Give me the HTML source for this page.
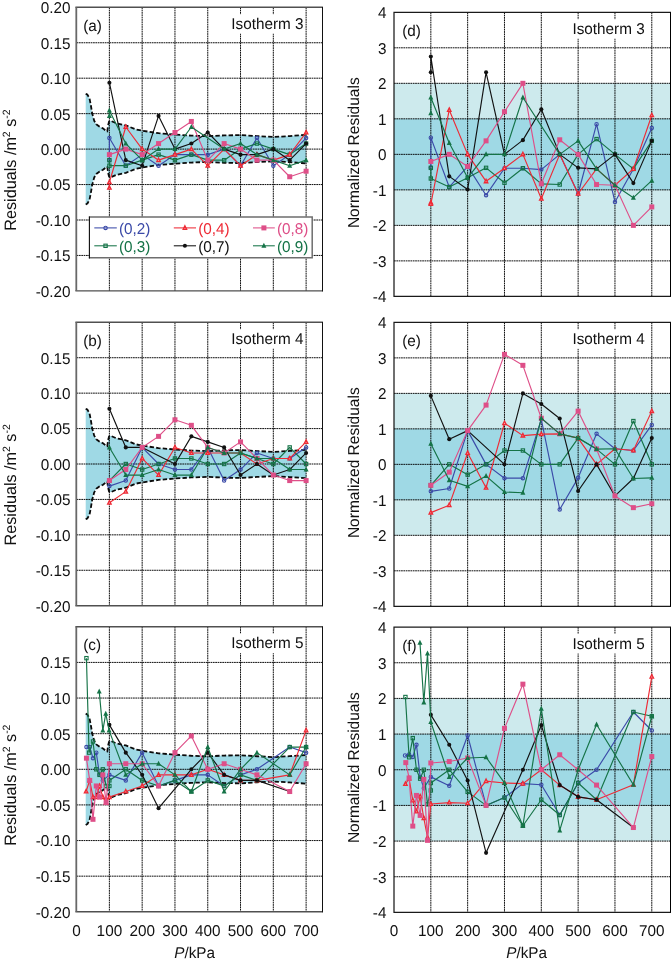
<!DOCTYPE html>
<html lang="en"><head><meta charset="utf-8"><title>Residual plots</title>
<style>html,body{margin:0;padding:0;background:#fff}svg{display:block}</style>
</head><body>
<svg width="671" height="964" viewBox="0 0 671 964" font-family="'Liberation Sans', Arial, sans-serif" font-size="15.3" fill="#111" text-rendering="geometricPrecision">
<rect width="671" height="964" fill="#fff"/>
<g id="panel-a">
<path d="M85.71 93.73L87.42 94.65L89.49 98.41L90.83 105.14L92.17 113.3L94.21 120.74L96.24 124.28L99.62 126.77L102.99 128.4L105.94 130.81L107.29 131.45L108.08 125.42L109.06 121.59L110.37 120.74L116.44 123.36L125.78 125.35L135.94 129.46L142.17 130.67L158.57 133.22L174.96 134.57L191.35 135.63L207.75 136.2L224.14 135.42L240.53 135.13L256.93 136.13L273.32 136.98L289.71 136.05L306.11 134.85L306.11 163.35L289.71 162.15L273.32 161.22L256.93 162.07L240.53 163.07L224.14 162.78L207.75 162L191.35 162.57L174.96 163.63L158.57 164.98L142.17 167.53L135.94 168.74L125.78 172.85L116.44 174.84L110.37 177.46L109.06 176.61L108.08 172.78L107.29 166.75L105.94 167.39L102.99 169.8L99.62 171.43L96.24 173.91L94.21 177.46L92.17 184.9L90.83 193.06L89.49 199.79L87.42 203.55L85.71 204.47Z" fill="#9fd9e5"/>
<path d="M109.39 7.3V290.9M142.17 7.3V290.9M174.96 7.3V290.9M207.75 7.3V290.9M240.53 7.3V290.9M273.32 7.3V290.9M306.11 7.3V290.9M76.6 255.45H322.5M76.6 220H322.5M76.6 184.55H322.5M76.6 149.1H322.5M76.6 113.65H322.5M76.6 78.2H322.5M76.6 42.75H322.5" fill="none" stroke="#000" stroke-width="0.95" stroke-dasharray="1.75 0.6"/>
<path d="M85.71 93.73L87.42 94.65L89.49 98.41L90.83 105.14L92.17 113.3L94.21 120.74L96.24 124.28L99.62 126.77L102.99 128.4L105.94 130.81L107.29 131.45L108.08 125.42L109.06 121.59L110.37 120.74L116.44 123.36L125.78 125.35L135.94 129.46L142.17 130.67L158.57 133.22L174.96 134.57L191.35 135.63L207.75 136.2L224.14 135.42L240.53 135.13L256.93 136.13L273.32 136.98L289.71 136.05L306.11 134.85" fill="none" stroke="#0a0a0a" stroke-width="1.8" stroke-dasharray="4.4 2.2" stroke-linejoin="round"/>
<path d="M85.71 204.47L87.42 203.55L89.49 199.79L90.83 193.06L92.17 184.9L94.21 177.46L96.24 173.91L99.62 171.43L102.99 169.8L105.94 167.39L107.29 166.75L108.08 172.78L109.06 176.61L110.37 177.46L116.44 174.84L125.78 172.85L135.94 168.74L142.17 167.53L158.57 164.98L174.96 163.63L191.35 162.57L207.75 162L224.14 162.78L240.53 163.07L256.93 162.07L273.32 161.22L289.71 162.15L306.11 163.35" fill="none" stroke="#0a0a0a" stroke-width="1.8" stroke-dasharray="4.4 2.2" stroke-linejoin="round"/>
<rect x="229" y="14.2" width="75.7" height="19.5" fill="#fff"/>
<path d="M109.39 160.16L109.39 138.04L125.78 165.69L142.17 154.63L158.57 165.69L174.96 154.63L191.35 154.63L207.75 154.63L224.14 149.1L240.53 165.69L256.93 138.04L273.32 165.69L289.71 154.63L306.11 138.04" fill="none" stroke="#3b4aa8" stroke-width="1.15" stroke-linejoin="round"/>
<circle cx="109.39" cy="160.16" r="1.7" fill="none" stroke="#3b4aa8" stroke-width="1.1"/>
<circle cx="109.39" cy="138.04" r="1.7" fill="none" stroke="#3b4aa8" stroke-width="1.1"/>
<circle cx="125.78" cy="165.69" r="1.7" fill="none" stroke="#3b4aa8" stroke-width="1.1"/>
<circle cx="142.17" cy="154.63" r="1.7" fill="none" stroke="#3b4aa8" stroke-width="1.1"/>
<circle cx="158.57" cy="165.69" r="1.7" fill="none" stroke="#3b4aa8" stroke-width="1.1"/>
<circle cx="174.96" cy="154.63" r="1.7" fill="none" stroke="#3b4aa8" stroke-width="1.1"/>
<circle cx="191.35" cy="154.63" r="1.7" fill="none" stroke="#3b4aa8" stroke-width="1.1"/>
<circle cx="207.75" cy="154.63" r="1.7" fill="none" stroke="#3b4aa8" stroke-width="1.1"/>
<circle cx="224.14" cy="149.1" r="1.7" fill="none" stroke="#3b4aa8" stroke-width="1.1"/>
<circle cx="240.53" cy="165.69" r="1.7" fill="none" stroke="#3b4aa8" stroke-width="1.1"/>
<circle cx="256.93" cy="138.04" r="1.7" fill="none" stroke="#3b4aa8" stroke-width="1.1"/>
<circle cx="273.32" cy="165.69" r="1.7" fill="none" stroke="#3b4aa8" stroke-width="1.1"/>
<circle cx="289.71" cy="154.63" r="1.7" fill="none" stroke="#3b4aa8" stroke-width="1.1"/>
<circle cx="306.11" cy="138.04" r="1.7" fill="none" stroke="#3b4aa8" stroke-width="1.1"/>
<path d="M109.39 160.16L109.39 165.69L125.78 165.69L142.17 160.16L158.57 154.63L174.96 160.16L191.35 154.63L207.75 160.16L224.14 160.16L240.53 149.1L256.93 143.57L273.32 149.1L289.71 154.63L306.11 143.57" fill="none" stroke="#157347" stroke-width="1.15" stroke-linejoin="round"/>
<rect x="107.74" y="158.51" width="3.3" height="3.3" fill="none" stroke="#157347" stroke-width="1.1"/>
<rect x="107.74" y="164.04" width="3.3" height="3.3" fill="none" stroke="#157347" stroke-width="1.1"/>
<rect x="124.13" y="164.04" width="3.3" height="3.3" fill="none" stroke="#157347" stroke-width="1.1"/>
<rect x="140.52" y="158.51" width="3.3" height="3.3" fill="none" stroke="#157347" stroke-width="1.1"/>
<rect x="156.92" y="152.98" width="3.3" height="3.3" fill="none" stroke="#157347" stroke-width="1.1"/>
<rect x="173.31" y="158.51" width="3.3" height="3.3" fill="none" stroke="#157347" stroke-width="1.1"/>
<rect x="189.7" y="152.98" width="3.3" height="3.3" fill="none" stroke="#157347" stroke-width="1.1"/>
<rect x="206.1" y="158.51" width="3.3" height="3.3" fill="none" stroke="#157347" stroke-width="1.1"/>
<rect x="222.49" y="158.51" width="3.3" height="3.3" fill="none" stroke="#157347" stroke-width="1.1"/>
<rect x="238.88" y="147.45" width="3.3" height="3.3" fill="none" stroke="#157347" stroke-width="1.1"/>
<rect x="255.28" y="141.92" width="3.3" height="3.3" fill="none" stroke="#157347" stroke-width="1.1"/>
<rect x="271.67" y="147.45" width="3.3" height="3.3" fill="none" stroke="#157347" stroke-width="1.1"/>
<rect x="288.06" y="152.98" width="3.3" height="3.3" fill="none" stroke="#157347" stroke-width="1.1"/>
<rect x="304.46" y="141.92" width="3.3" height="3.3" fill="none" stroke="#157347" stroke-width="1.1"/>
<path d="M109.39 187.81L109.39 182.28L125.78 126.98L142.17 149.1L158.57 160.16L174.96 154.63L191.35 149.1L207.75 165.69L224.14 149.1L240.53 165.69L256.93 154.63L273.32 160.16L289.71 154.63L306.11 132.51" fill="none" stroke="#ee2a35" stroke-width="1.15" stroke-linejoin="round"/>
<path d="M109.39 185.71L111.14 189.21L107.64 189.21Z" fill="#f9a3a8" stroke="#ee2a35" stroke-width="1.3" stroke-linejoin="miter"/>
<path d="M109.39 180.18L111.14 183.68L107.64 183.68Z" fill="#f9a3a8" stroke="#ee2a35" stroke-width="1.3" stroke-linejoin="miter"/>
<path d="M125.78 124.88L127.53 128.38L124.03 128.38Z" fill="#f9a3a8" stroke="#ee2a35" stroke-width="1.3" stroke-linejoin="miter"/>
<path d="M142.17 147L143.92 150.5L140.42 150.5Z" fill="#f9a3a8" stroke="#ee2a35" stroke-width="1.3" stroke-linejoin="miter"/>
<path d="M158.57 158.06L160.32 161.56L156.82 161.56Z" fill="#f9a3a8" stroke="#ee2a35" stroke-width="1.3" stroke-linejoin="miter"/>
<path d="M174.96 152.53L176.71 156.03L173.21 156.03Z" fill="#f9a3a8" stroke="#ee2a35" stroke-width="1.3" stroke-linejoin="miter"/>
<path d="M191.35 147L193.1 150.5L189.6 150.5Z" fill="#f9a3a8" stroke="#ee2a35" stroke-width="1.3" stroke-linejoin="miter"/>
<path d="M207.75 163.59L209.5 167.09L206 167.09Z" fill="#f9a3a8" stroke="#ee2a35" stroke-width="1.3" stroke-linejoin="miter"/>
<path d="M224.14 147L225.89 150.5L222.39 150.5Z" fill="#f9a3a8" stroke="#ee2a35" stroke-width="1.3" stroke-linejoin="miter"/>
<path d="M240.53 163.59L242.28 167.09L238.78 167.09Z" fill="#f9a3a8" stroke="#ee2a35" stroke-width="1.3" stroke-linejoin="miter"/>
<path d="M256.93 152.53L258.68 156.03L255.18 156.03Z" fill="#f9a3a8" stroke="#ee2a35" stroke-width="1.3" stroke-linejoin="miter"/>
<path d="M273.32 158.06L275.07 161.56L271.57 161.56Z" fill="#f9a3a8" stroke="#ee2a35" stroke-width="1.3" stroke-linejoin="miter"/>
<path d="M289.71 152.53L291.46 156.03L287.96 156.03Z" fill="#f9a3a8" stroke="#ee2a35" stroke-width="1.3" stroke-linejoin="miter"/>
<path d="M306.11 130.41L307.86 133.91L304.36 133.91Z" fill="#f9a3a8" stroke="#ee2a35" stroke-width="1.3" stroke-linejoin="miter"/>
<path d="M109.39 82.74L125.78 160.16L142.17 165.69L158.57 115.92L174.96 149.1L191.35 143.57L207.75 132.51L224.14 149.1L240.53 154.63L256.93 154.63L273.32 149.1L289.71 160.16L306.11 143.57" fill="none" stroke="#111111" stroke-width="1.15" stroke-linejoin="round"/>
<circle cx="109.39" cy="82.74" r="2.05" fill="#111111"/>
<circle cx="125.78" cy="160.16" r="2.05" fill="#111111"/>
<circle cx="142.17" cy="165.69" r="2.05" fill="#111111"/>
<circle cx="158.57" cy="115.92" r="2.05" fill="#111111"/>
<circle cx="174.96" cy="149.1" r="2.05" fill="#111111"/>
<circle cx="191.35" cy="143.57" r="2.05" fill="#111111"/>
<circle cx="207.75" cy="132.51" r="2.05" fill="#111111"/>
<circle cx="224.14" cy="149.1" r="2.05" fill="#111111"/>
<circle cx="240.53" cy="154.63" r="2.05" fill="#111111"/>
<circle cx="256.93" cy="154.63" r="2.05" fill="#111111"/>
<circle cx="273.32" cy="149.1" r="2.05" fill="#111111"/>
<circle cx="289.71" cy="160.16" r="2.05" fill="#111111"/>
<circle cx="306.11" cy="143.57" r="2.05" fill="#111111"/>
<path d="M109.39 154.63L125.78 149.1L142.17 154.63L158.57 143.57L174.96 132.51L191.35 121.45L207.75 160.16L224.14 143.57L240.53 149.1L256.93 160.16L273.32 160.16L289.71 176.75L306.11 171.22" fill="none" stroke="#de4f88" stroke-width="1.15" stroke-linejoin="round"/>
<rect x="106.89" y="152.13" width="5" height="5" fill="#de4f88"/>
<rect x="123.28" y="146.6" width="5" height="5" fill="#de4f88"/>
<rect x="139.67" y="152.13" width="5" height="5" fill="#de4f88"/>
<rect x="156.07" y="141.07" width="5" height="5" fill="#de4f88"/>
<rect x="172.46" y="130.01" width="5" height="5" fill="#de4f88"/>
<rect x="188.85" y="118.95" width="5" height="5" fill="#de4f88"/>
<rect x="205.25" y="157.66" width="5" height="5" fill="#de4f88"/>
<rect x="221.64" y="141.07" width="5" height="5" fill="#de4f88"/>
<rect x="238.03" y="146.6" width="5" height="5" fill="#de4f88"/>
<rect x="254.43" y="157.66" width="5" height="5" fill="#de4f88"/>
<rect x="270.82" y="157.66" width="5" height="5" fill="#de4f88"/>
<rect x="287.21" y="174.25" width="5" height="5" fill="#de4f88"/>
<rect x="303.61" y="168.72" width="5" height="5" fill="#de4f88"/>
<path d="M109.39 115.92L109.39 110.39L125.78 143.57L142.17 160.16L158.57 149.1L174.96 149.1L191.35 126.98L224.14 149.1L240.53 143.57L256.93 154.63L273.32 160.16L289.71 165.69L306.11 160.16" fill="none" stroke="#157347" stroke-width="1.15" stroke-linejoin="round"/>
<path d="M109.39 112.92L111.89 117.92L106.89 117.92Z" fill="#157347"/>
<path d="M109.39 107.39L111.89 112.39L106.89 112.39Z" fill="#157347"/>
<path d="M125.78 140.57L128.28 145.57L123.28 145.57Z" fill="#157347"/>
<path d="M142.17 157.16L144.67 162.16L139.67 162.16Z" fill="#157347"/>
<path d="M158.57 146.1L161.07 151.1L156.07 151.1Z" fill="#157347"/>
<path d="M174.96 146.1L177.46 151.1L172.46 151.1Z" fill="#157347"/>
<path d="M191.35 123.98L193.85 128.98L188.85 128.98Z" fill="#157347"/>
<path d="M224.14 146.1L226.64 151.1L221.64 151.1Z" fill="#157347"/>
<path d="M240.53 140.57L243.03 145.57L238.03 145.57Z" fill="#157347"/>
<path d="M256.93 151.63L259.43 156.63L254.43 156.63Z" fill="#157347"/>
<path d="M273.32 157.16L275.82 162.16L270.82 162.16Z" fill="#157347"/>
<path d="M289.71 162.69L292.21 167.69L287.21 167.69Z" fill="#157347"/>
<path d="M306.11 157.16L308.61 162.16L303.61 162.16Z" fill="#157347"/>
<path d="M75.4 7.3H322.5M75.4 290.9H322.5" fill="none" stroke="#505050" stroke-width="1.4"/>
<path d="M76.3 7.3V290.9" fill="none" stroke="#686868" stroke-width="1.8"/>
<path d="M322.5 6.8V291.5" fill="none" stroke="#111" stroke-width="1"/>
<text transform="translate(303.5 28.7) scale(1 1.02)" text-anchor="end">Isotherm 3</text>
<text transform="translate(83.2 30.7) scale(1 1.02)">(a)</text>
<text transform="translate(70.6 296.8) scale(1 1.02)" text-anchor="end">-0.20</text>
<text transform="translate(70.6 261.35) scale(1 1.02)" text-anchor="end">-0.15</text>
<text transform="translate(70.6 225.9) scale(1 1.02)" text-anchor="end">-0.10</text>
<text transform="translate(70.6 190.45) scale(1 1.02)" text-anchor="end">-0.05</text>
<text transform="translate(70.6 155) scale(1 1.02)" text-anchor="end">0.00</text>
<text transform="translate(70.6 119.55) scale(1 1.02)" text-anchor="end">0.05</text>
<text transform="translate(70.6 84.1) scale(1 1.02)" text-anchor="end">0.10</text>
<text transform="translate(70.6 48.65) scale(1 1.02)" text-anchor="end">0.15</text>
<text transform="translate(70.6 13.2) scale(1 1.02)" text-anchor="end">0.20</text>
</g>
<g id="panel-b">
<path d="M85.71 408.67L87.42 409.59L89.49 413.34L90.83 420.07L92.17 428.22L94.21 435.66L96.24 439.2L99.62 441.68L102.99 443.31L105.94 445.72L107.29 446.36L108.08 440.34L109.06 436.51L110.37 435.66L116.44 438.28L125.78 440.27L135.94 444.37L142.17 445.58L158.57 448.13L174.96 449.48L191.35 450.54L207.75 451.11L224.14 450.33L240.53 450.04L256.93 451.03L273.32 451.88L289.71 450.96L306.11 449.76L306.11 478.24L289.71 477.04L273.32 476.12L256.93 476.97L240.53 477.96L224.14 477.67L207.75 476.89L191.35 477.46L174.96 478.52L158.57 479.87L142.17 482.42L135.94 483.63L125.78 487.73L116.44 489.72L110.37 492.34L109.06 491.49L108.08 487.66L107.29 481.64L105.94 482.28L102.99 484.69L99.62 486.32L96.24 488.8L94.21 492.34L92.17 499.78L90.83 507.93L89.49 514.66L87.42 518.41L85.71 519.33Z" fill="#9fd9e5"/>
<path d="M109.39 322.3V605.7M142.17 322.3V605.7M174.96 322.3V605.7M207.75 322.3V605.7M240.53 322.3V605.7M273.32 322.3V605.7M306.11 322.3V605.7M76.6 570.28H322.5M76.6 534.85H322.5M76.6 499.43H322.5M76.6 464H322.5M76.6 428.58H322.5M76.6 393.15H322.5M76.6 357.73H322.5" fill="none" stroke="#000" stroke-width="0.95" stroke-dasharray="1.75 0.6"/>
<path d="M85.71 408.67L87.42 409.59L89.49 413.34L90.83 420.07L92.17 428.22L94.21 435.66L96.24 439.2L99.62 441.68L102.99 443.31L105.94 445.72L107.29 446.36L108.08 440.34L109.06 436.51L110.37 435.66L116.44 438.28L125.78 440.27L135.94 444.37L142.17 445.58L158.57 448.13L174.96 449.48L191.35 450.54L207.75 451.11L224.14 450.33L240.53 450.04L256.93 451.03L273.32 451.88L289.71 450.96L306.11 449.76" fill="none" stroke="#0a0a0a" stroke-width="1.8" stroke-dasharray="4.4 2.2" stroke-linejoin="round"/>
<path d="M85.71 519.33L87.42 518.41L89.49 514.66L90.83 507.93L92.17 499.78L94.21 492.34L96.24 488.8L99.62 486.32L102.99 484.69L105.94 482.28L107.29 481.64L108.08 487.66L109.06 491.49L110.37 492.34L116.44 489.72L125.78 487.73L135.94 483.63L142.17 482.42L158.57 479.87L174.96 478.52L191.35 477.46L207.75 476.89L224.14 477.67L240.53 477.96L256.93 476.97L273.32 476.12L289.71 477.04L306.11 478.24" fill="none" stroke="#0a0a0a" stroke-width="1.8" stroke-dasharray="4.4 2.2" stroke-linejoin="round"/>
<rect x="229" y="329.2" width="75.7" height="19.5" fill="#fff"/>
<path d="M109.39 486.11L125.78 480.58L142.17 447.42L158.57 464L174.96 469.53L191.35 469.53L207.75 447.42L224.14 480.58L240.53 469.53L256.93 452.95L273.32 458.47L289.71 458.47L306.11 447.42" fill="none" stroke="#3b4aa8" stroke-width="1.15" stroke-linejoin="round"/>
<circle cx="109.39" cy="486.11" r="1.7" fill="none" stroke="#3b4aa8" stroke-width="1.1"/>
<circle cx="125.78" cy="480.58" r="1.7" fill="none" stroke="#3b4aa8" stroke-width="1.1"/>
<circle cx="142.17" cy="447.42" r="1.7" fill="none" stroke="#3b4aa8" stroke-width="1.1"/>
<circle cx="158.57" cy="464" r="1.7" fill="none" stroke="#3b4aa8" stroke-width="1.1"/>
<circle cx="174.96" cy="469.53" r="1.7" fill="none" stroke="#3b4aa8" stroke-width="1.1"/>
<circle cx="191.35" cy="469.53" r="1.7" fill="none" stroke="#3b4aa8" stroke-width="1.1"/>
<circle cx="207.75" cy="447.42" r="1.7" fill="none" stroke="#3b4aa8" stroke-width="1.1"/>
<circle cx="224.14" cy="480.58" r="1.7" fill="none" stroke="#3b4aa8" stroke-width="1.1"/>
<circle cx="240.53" cy="469.53" r="1.7" fill="none" stroke="#3b4aa8" stroke-width="1.1"/>
<circle cx="256.93" cy="452.95" r="1.7" fill="none" stroke="#3b4aa8" stroke-width="1.1"/>
<circle cx="273.32" cy="458.47" r="1.7" fill="none" stroke="#3b4aa8" stroke-width="1.1"/>
<circle cx="289.71" cy="458.47" r="1.7" fill="none" stroke="#3b4aa8" stroke-width="1.1"/>
<circle cx="306.11" cy="447.42" r="1.7" fill="none" stroke="#3b4aa8" stroke-width="1.1"/>
<path d="M109.39 480.58L125.78 464L142.17 469.53L158.57 464L174.96 458.47L191.35 458.47L207.75 464L224.14 464L240.53 452.95L256.93 458.47L273.32 464L289.71 447.42L306.11 464" fill="none" stroke="#157347" stroke-width="1.15" stroke-linejoin="round"/>
<rect x="107.74" y="478.93" width="3.3" height="3.3" fill="none" stroke="#157347" stroke-width="1.1"/>
<rect x="124.13" y="462.35" width="3.3" height="3.3" fill="none" stroke="#157347" stroke-width="1.1"/>
<rect x="140.52" y="467.88" width="3.3" height="3.3" fill="none" stroke="#157347" stroke-width="1.1"/>
<rect x="156.92" y="462.35" width="3.3" height="3.3" fill="none" stroke="#157347" stroke-width="1.1"/>
<rect x="173.31" y="456.82" width="3.3" height="3.3" fill="none" stroke="#157347" stroke-width="1.1"/>
<rect x="189.7" y="456.82" width="3.3" height="3.3" fill="none" stroke="#157347" stroke-width="1.1"/>
<rect x="206.1" y="462.35" width="3.3" height="3.3" fill="none" stroke="#157347" stroke-width="1.1"/>
<rect x="222.49" y="462.35" width="3.3" height="3.3" fill="none" stroke="#157347" stroke-width="1.1"/>
<rect x="238.88" y="451.3" width="3.3" height="3.3" fill="none" stroke="#157347" stroke-width="1.1"/>
<rect x="255.28" y="456.82" width="3.3" height="3.3" fill="none" stroke="#157347" stroke-width="1.1"/>
<rect x="271.67" y="462.35" width="3.3" height="3.3" fill="none" stroke="#157347" stroke-width="1.1"/>
<rect x="288.06" y="445.77" width="3.3" height="3.3" fill="none" stroke="#157347" stroke-width="1.1"/>
<rect x="304.46" y="462.35" width="3.3" height="3.3" fill="none" stroke="#157347" stroke-width="1.1"/>
<path d="M109.39 502.68L125.78 491.63L142.17 458.47L158.57 475.05L174.96 447.42L191.35 452.95L207.75 452.95L224.14 452.95L240.53 452.95L256.93 464L273.32 458.47L289.71 458.47L306.11 441.89" fill="none" stroke="#ee2a35" stroke-width="1.15" stroke-linejoin="round"/>
<path d="M109.39 500.58L111.14 504.08L107.64 504.08Z" fill="#f9a3a8" stroke="#ee2a35" stroke-width="1.3" stroke-linejoin="miter"/>
<path d="M125.78 489.53L127.53 493.03L124.03 493.03Z" fill="#f9a3a8" stroke="#ee2a35" stroke-width="1.3" stroke-linejoin="miter"/>
<path d="M142.17 456.37L143.92 459.87L140.42 459.87Z" fill="#f9a3a8" stroke="#ee2a35" stroke-width="1.3" stroke-linejoin="miter"/>
<path d="M158.57 472.95L160.32 476.45L156.82 476.45Z" fill="#f9a3a8" stroke="#ee2a35" stroke-width="1.3" stroke-linejoin="miter"/>
<path d="M174.96 445.32L176.71 448.82L173.21 448.82Z" fill="#f9a3a8" stroke="#ee2a35" stroke-width="1.3" stroke-linejoin="miter"/>
<path d="M191.35 450.85L193.1 454.35L189.6 454.35Z" fill="#f9a3a8" stroke="#ee2a35" stroke-width="1.3" stroke-linejoin="miter"/>
<path d="M207.75 450.85L209.5 454.35L206 454.35Z" fill="#f9a3a8" stroke="#ee2a35" stroke-width="1.3" stroke-linejoin="miter"/>
<path d="M224.14 450.85L225.89 454.35L222.39 454.35Z" fill="#f9a3a8" stroke="#ee2a35" stroke-width="1.3" stroke-linejoin="miter"/>
<path d="M240.53 450.85L242.28 454.35L238.78 454.35Z" fill="#f9a3a8" stroke="#ee2a35" stroke-width="1.3" stroke-linejoin="miter"/>
<path d="M256.93 461.9L258.68 465.4L255.18 465.4Z" fill="#f9a3a8" stroke="#ee2a35" stroke-width="1.3" stroke-linejoin="miter"/>
<path d="M273.32 456.37L275.07 459.87L271.57 459.87Z" fill="#f9a3a8" stroke="#ee2a35" stroke-width="1.3" stroke-linejoin="miter"/>
<path d="M289.71 456.37L291.46 459.87L287.96 459.87Z" fill="#f9a3a8" stroke="#ee2a35" stroke-width="1.3" stroke-linejoin="miter"/>
<path d="M306.11 439.79L307.86 443.29L304.36 443.29Z" fill="#f9a3a8" stroke="#ee2a35" stroke-width="1.3" stroke-linejoin="miter"/>
<path d="M109.39 408.74L125.78 447.42L142.17 447.42L174.96 464L191.35 436.37L207.75 441.89L224.14 447.42L240.53 475.05L256.93 464L273.32 475.05L289.71 469.53L306.11 452.95" fill="none" stroke="#111111" stroke-width="1.15" stroke-linejoin="round"/>
<circle cx="109.39" cy="408.74" r="2.05" fill="#111111"/>
<circle cx="125.78" cy="447.42" r="2.05" fill="#111111"/>
<circle cx="142.17" cy="447.42" r="2.05" fill="#111111"/>
<circle cx="174.96" cy="464" r="2.05" fill="#111111"/>
<circle cx="191.35" cy="436.37" r="2.05" fill="#111111"/>
<circle cx="207.75" cy="441.89" r="2.05" fill="#111111"/>
<circle cx="224.14" cy="447.42" r="2.05" fill="#111111"/>
<circle cx="240.53" cy="475.05" r="2.05" fill="#111111"/>
<circle cx="256.93" cy="464" r="2.05" fill="#111111"/>
<circle cx="273.32" cy="475.05" r="2.05" fill="#111111"/>
<circle cx="289.71" cy="469.53" r="2.05" fill="#111111"/>
<circle cx="306.11" cy="452.95" r="2.05" fill="#111111"/>
<path d="M109.39 480.58L125.78 469.53L142.17 447.42L158.57 436.37L174.96 419.79L191.35 425.32L207.75 447.42L224.14 452.95L240.53 441.89L256.93 458.47L273.32 475.05L289.71 480.58L306.11 480.58" fill="none" stroke="#de4f88" stroke-width="1.15" stroke-linejoin="round"/>
<rect x="106.89" y="478.08" width="5" height="5" fill="#de4f88"/>
<rect x="123.28" y="467.03" width="5" height="5" fill="#de4f88"/>
<rect x="139.67" y="444.92" width="5" height="5" fill="#de4f88"/>
<rect x="156.07" y="433.87" width="5" height="5" fill="#de4f88"/>
<rect x="172.46" y="417.29" width="5" height="5" fill="#de4f88"/>
<rect x="188.85" y="422.82" width="5" height="5" fill="#de4f88"/>
<rect x="205.25" y="444.92" width="5" height="5" fill="#de4f88"/>
<rect x="221.64" y="450.45" width="5" height="5" fill="#de4f88"/>
<rect x="238.03" y="439.39" width="5" height="5" fill="#de4f88"/>
<rect x="254.43" y="455.97" width="5" height="5" fill="#de4f88"/>
<rect x="270.82" y="472.55" width="5" height="5" fill="#de4f88"/>
<rect x="287.21" y="478.08" width="5" height="5" fill="#de4f88"/>
<rect x="303.61" y="478.08" width="5" height="5" fill="#de4f88"/>
<path d="M109.39 447.42L125.78 475.05L142.17 475.05L158.57 469.53L174.96 475.05L191.35 475.05L207.75 447.42L224.14 452.95L240.53 452.95L256.93 458.47L273.32 458.47L289.71 469.53L306.11 469.53" fill="none" stroke="#157347" stroke-width="1.15" stroke-linejoin="round"/>
<path d="M109.39 444.42L111.89 449.42L106.89 449.42Z" fill="#157347"/>
<path d="M125.78 472.05L128.28 477.05L123.28 477.05Z" fill="#157347"/>
<path d="M142.17 472.05L144.67 477.05L139.67 477.05Z" fill="#157347"/>
<path d="M158.57 466.53L161.07 471.53L156.07 471.53Z" fill="#157347"/>
<path d="M174.96 472.05L177.46 477.05L172.46 477.05Z" fill="#157347"/>
<path d="M191.35 472.05L193.85 477.05L188.85 477.05Z" fill="#157347"/>
<path d="M207.75 444.42L210.25 449.42L205.25 449.42Z" fill="#157347"/>
<path d="M224.14 449.95L226.64 454.95L221.64 454.95Z" fill="#157347"/>
<path d="M240.53 449.95L243.03 454.95L238.03 454.95Z" fill="#157347"/>
<path d="M256.93 455.47L259.43 460.47L254.43 460.47Z" fill="#157347"/>
<path d="M273.32 455.47L275.82 460.47L270.82 460.47Z" fill="#157347"/>
<path d="M289.71 466.53L292.21 471.53L287.21 471.53Z" fill="#157347"/>
<path d="M306.11 466.53L308.61 471.53L303.61 471.53Z" fill="#157347"/>
<path d="M75.4 322.3H322.5M75.4 605.7H322.5" fill="none" stroke="#505050" stroke-width="1.4"/>
<path d="M76.3 322.3V605.7" fill="none" stroke="#686868" stroke-width="1.8"/>
<path d="M322.5 321.8V606.3" fill="none" stroke="#111" stroke-width="1"/>
<text transform="translate(303.5 343.7) scale(1 1.02)" text-anchor="end">Isotherm 4</text>
<text transform="translate(83.2 345.7) scale(1 1.02)">(b)</text>
<text transform="translate(70.6 611.6) scale(1 1.02)" text-anchor="end">-0.20</text>
<text transform="translate(70.6 576.18) scale(1 1.02)" text-anchor="end">-0.15</text>
<text transform="translate(70.6 540.75) scale(1 1.02)" text-anchor="end">-0.10</text>
<text transform="translate(70.6 505.32) scale(1 1.02)" text-anchor="end">-0.05</text>
<text transform="translate(70.6 469.9) scale(1 1.02)" text-anchor="end">0.00</text>
<text transform="translate(70.6 434.48) scale(1 1.02)" text-anchor="end">0.05</text>
<text transform="translate(70.6 399.05) scale(1 1.02)" text-anchor="end">0.10</text>
<text transform="translate(70.6 363.62) scale(1 1.02)" text-anchor="end">0.15</text>
</g>
<g id="panel-c">
<path d="M85.71 713.65L87.42 714.58L89.49 718.36L90.83 725.12L92.17 733.32L94.21 740.8L96.24 744.36L99.62 746.86L102.99 748.5L105.94 750.92L107.29 751.56L108.08 745.5L109.06 741.65L110.37 740.8L116.44 743.44L125.78 745.43L135.94 749.56L142.17 750.77L158.57 753.34L174.96 754.69L191.35 755.76L207.75 756.33L224.14 755.55L240.53 755.26L256.93 756.26L273.32 757.12L289.71 756.19L306.11 754.98L306.11 783.62L289.71 782.41L273.32 781.48L256.93 782.34L240.53 783.34L224.14 783.05L207.75 782.27L191.35 782.84L174.96 783.91L158.57 785.26L142.17 787.82L135.94 789.04L125.78 793.17L116.44 795.16L110.37 797.8L109.06 796.94L108.08 793.1L107.29 787.04L105.94 787.68L102.99 790.11L99.62 791.74L96.24 794.24L94.21 797.8L92.17 805.28L90.83 813.47L89.49 820.24L87.42 824.02L85.71 824.95Z" fill="#9fd9e5"/>
<path d="M109.39 626.8V911.8M142.17 626.8V911.8M174.96 626.8V911.8M207.75 626.8V911.8M240.53 626.8V911.8M273.32 626.8V911.8M306.11 626.8V911.8M76.6 876.17H322.5M76.6 840.55H322.5M76.6 804.92H322.5M76.6 769.3H322.5M76.6 733.67H322.5M76.6 698.05H322.5M76.6 662.42H322.5" fill="none" stroke="#000" stroke-width="0.95" stroke-dasharray="1.75 0.6"/>
<path d="M85.71 713.65L87.42 714.58L89.49 718.36L90.83 725.12L92.17 733.32L94.21 740.8L96.24 744.36L99.62 746.86L102.99 748.5L105.94 750.92L107.29 751.56L108.08 745.5L109.06 741.65L110.37 740.8L116.44 743.44L125.78 745.43L135.94 749.56L142.17 750.77L158.57 753.34L174.96 754.69L191.35 755.76L207.75 756.33L224.14 755.55L240.53 755.26L256.93 756.26L273.32 757.12L289.71 756.19L306.11 754.98" fill="none" stroke="#0a0a0a" stroke-width="1.8" stroke-dasharray="4.4 2.2" stroke-linejoin="round"/>
<path d="M85.71 824.95L87.42 824.02L89.49 820.24L90.83 813.47L92.17 805.28L94.21 797.8L96.24 794.24L99.62 791.74L102.99 790.11L105.94 787.68L107.29 787.04L108.08 793.1L109.06 796.94L110.37 797.8L116.44 795.16L125.78 793.17L135.94 789.04L142.17 787.82L158.57 785.26L174.96 783.91L191.35 782.84L207.75 782.27L224.14 783.05L240.53 783.34L256.93 782.34L273.32 781.48L289.71 782.41L306.11 783.62" fill="none" stroke="#0a0a0a" stroke-width="1.8" stroke-dasharray="4.4 2.2" stroke-linejoin="round"/>
<rect x="229" y="633.7" width="75.7" height="19.5" fill="#fff"/>
<path d="M86.44 747.07L89.71 747.07L92.99 758.18L96.27 752.63L99.55 774.86L102.83 780.41L109.39 774.86L125.78 780.41L142.17 752.63L158.57 785.97L174.96 780.41L191.35 774.86L207.75 774.86L224.14 785.97L240.53 774.86L256.93 769.3L289.71 747.07L306.11 752.63" fill="none" stroke="#3b4aa8" stroke-width="1.15" stroke-linejoin="round"/>
<circle cx="86.44" cy="747.07" r="1.7" fill="none" stroke="#3b4aa8" stroke-width="1.1"/>
<circle cx="89.71" cy="747.07" r="1.7" fill="none" stroke="#3b4aa8" stroke-width="1.1"/>
<circle cx="92.99" cy="758.18" r="1.7" fill="none" stroke="#3b4aa8" stroke-width="1.1"/>
<circle cx="96.27" cy="752.63" r="1.7" fill="none" stroke="#3b4aa8" stroke-width="1.1"/>
<circle cx="99.55" cy="774.86" r="1.7" fill="none" stroke="#3b4aa8" stroke-width="1.1"/>
<circle cx="102.83" cy="780.41" r="1.7" fill="none" stroke="#3b4aa8" stroke-width="1.1"/>
<circle cx="109.39" cy="774.86" r="1.7" fill="none" stroke="#3b4aa8" stroke-width="1.1"/>
<circle cx="125.78" cy="780.41" r="1.7" fill="none" stroke="#3b4aa8" stroke-width="1.1"/>
<circle cx="142.17" cy="752.63" r="1.7" fill="none" stroke="#3b4aa8" stroke-width="1.1"/>
<circle cx="158.57" cy="785.97" r="1.7" fill="none" stroke="#3b4aa8" stroke-width="1.1"/>
<circle cx="174.96" cy="780.41" r="1.7" fill="none" stroke="#3b4aa8" stroke-width="1.1"/>
<circle cx="191.35" cy="774.86" r="1.7" fill="none" stroke="#3b4aa8" stroke-width="1.1"/>
<circle cx="207.75" cy="774.86" r="1.7" fill="none" stroke="#3b4aa8" stroke-width="1.1"/>
<circle cx="224.14" cy="785.97" r="1.7" fill="none" stroke="#3b4aa8" stroke-width="1.1"/>
<circle cx="240.53" cy="774.86" r="1.7" fill="none" stroke="#3b4aa8" stroke-width="1.1"/>
<circle cx="256.93" cy="769.3" r="1.7" fill="none" stroke="#3b4aa8" stroke-width="1.1"/>
<circle cx="289.71" cy="747.07" r="1.7" fill="none" stroke="#3b4aa8" stroke-width="1.1"/>
<circle cx="306.11" cy="752.63" r="1.7" fill="none" stroke="#3b4aa8" stroke-width="1.1"/>
<path d="M86.44 658.15L89.06 752.63L92.99 741.51L96.27 769.3L99.55 774.86L102.83 769.3L106.11 785.97L109.39 785.97L109.39 780.41L125.78 769.3L142.17 780.41L158.57 785.97L174.96 780.41L191.35 791.53L207.75 780.41L224.14 785.97L240.53 774.86L256.93 780.41L289.71 747.07L306.11 747.07" fill="none" stroke="#157347" stroke-width="1.15" stroke-linejoin="round"/>
<rect x="84.79" y="656.5" width="3.3" height="3.3" fill="none" stroke="#157347" stroke-width="1.1"/>
<rect x="87.41" y="750.98" width="3.3" height="3.3" fill="none" stroke="#157347" stroke-width="1.1"/>
<rect x="91.34" y="739.86" width="3.3" height="3.3" fill="none" stroke="#157347" stroke-width="1.1"/>
<rect x="94.62" y="767.65" width="3.3" height="3.3" fill="none" stroke="#157347" stroke-width="1.1"/>
<rect x="97.9" y="773.21" width="3.3" height="3.3" fill="none" stroke="#157347" stroke-width="1.1"/>
<rect x="101.18" y="767.65" width="3.3" height="3.3" fill="none" stroke="#157347" stroke-width="1.1"/>
<rect x="104.46" y="784.32" width="3.3" height="3.3" fill="none" stroke="#157347" stroke-width="1.1"/>
<rect x="107.74" y="784.32" width="3.3" height="3.3" fill="none" stroke="#157347" stroke-width="1.1"/>
<rect x="107.74" y="778.76" width="3.3" height="3.3" fill="none" stroke="#157347" stroke-width="1.1"/>
<rect x="124.13" y="767.65" width="3.3" height="3.3" fill="none" stroke="#157347" stroke-width="1.1"/>
<rect x="140.52" y="778.76" width="3.3" height="3.3" fill="none" stroke="#157347" stroke-width="1.1"/>
<rect x="156.92" y="784.32" width="3.3" height="3.3" fill="none" stroke="#157347" stroke-width="1.1"/>
<rect x="173.31" y="778.76" width="3.3" height="3.3" fill="none" stroke="#157347" stroke-width="1.1"/>
<rect x="189.7" y="789.88" width="3.3" height="3.3" fill="none" stroke="#157347" stroke-width="1.1"/>
<rect x="206.1" y="778.76" width="3.3" height="3.3" fill="none" stroke="#157347" stroke-width="1.1"/>
<rect x="222.49" y="784.32" width="3.3" height="3.3" fill="none" stroke="#157347" stroke-width="1.1"/>
<rect x="238.88" y="773.21" width="3.3" height="3.3" fill="none" stroke="#157347" stroke-width="1.1"/>
<rect x="255.28" y="778.76" width="3.3" height="3.3" fill="none" stroke="#157347" stroke-width="1.1"/>
<rect x="288.06" y="745.42" width="3.3" height="3.3" fill="none" stroke="#157347" stroke-width="1.1"/>
<rect x="304.46" y="745.42" width="3.3" height="3.3" fill="none" stroke="#157347" stroke-width="1.1"/>
<path d="M86.11 791.53L89.71 780.41L92.99 797.09L96.27 797.09L99.55 785.97L102.83 797.09L106.11 802.64L109.39 797.09L125.78 791.53L142.17 785.97L158.57 774.86L174.96 774.86L191.35 774.86L207.75 769.3L224.14 774.86L240.53 780.41L256.93 780.41L289.71 774.86L306.11 730.4" fill="none" stroke="#ee2a35" stroke-width="1.15" stroke-linejoin="round"/>
<path d="M86.11 789.43L87.86 792.93L84.36 792.93Z" fill="#f9a3a8" stroke="#ee2a35" stroke-width="1.3" stroke-linejoin="miter"/>
<path d="M89.71 778.31L91.46 781.81L87.96 781.81Z" fill="#f9a3a8" stroke="#ee2a35" stroke-width="1.3" stroke-linejoin="miter"/>
<path d="M92.99 794.99L94.74 798.49L91.24 798.49Z" fill="#f9a3a8" stroke="#ee2a35" stroke-width="1.3" stroke-linejoin="miter"/>
<path d="M96.27 794.99L98.02 798.49L94.52 798.49Z" fill="#f9a3a8" stroke="#ee2a35" stroke-width="1.3" stroke-linejoin="miter"/>
<path d="M99.55 783.87L101.3 787.37L97.8 787.37Z" fill="#f9a3a8" stroke="#ee2a35" stroke-width="1.3" stroke-linejoin="miter"/>
<path d="M102.83 794.99L104.58 798.49L101.08 798.49Z" fill="#f9a3a8" stroke="#ee2a35" stroke-width="1.3" stroke-linejoin="miter"/>
<path d="M106.11 800.54L107.86 804.04L104.36 804.04Z" fill="#f9a3a8" stroke="#ee2a35" stroke-width="1.3" stroke-linejoin="miter"/>
<path d="M109.39 794.99L111.14 798.49L107.64 798.49Z" fill="#f9a3a8" stroke="#ee2a35" stroke-width="1.3" stroke-linejoin="miter"/>
<path d="M125.78 789.43L127.53 792.93L124.03 792.93Z" fill="#f9a3a8" stroke="#ee2a35" stroke-width="1.3" stroke-linejoin="miter"/>
<path d="M142.17 783.87L143.92 787.37L140.42 787.37Z" fill="#f9a3a8" stroke="#ee2a35" stroke-width="1.3" stroke-linejoin="miter"/>
<path d="M158.57 772.76L160.32 776.26L156.82 776.26Z" fill="#f9a3a8" stroke="#ee2a35" stroke-width="1.3" stroke-linejoin="miter"/>
<path d="M174.96 772.76L176.71 776.26L173.21 776.26Z" fill="#f9a3a8" stroke="#ee2a35" stroke-width="1.3" stroke-linejoin="miter"/>
<path d="M191.35 772.76L193.1 776.26L189.6 776.26Z" fill="#f9a3a8" stroke="#ee2a35" stroke-width="1.3" stroke-linejoin="miter"/>
<path d="M207.75 767.2L209.5 770.7L206 770.7Z" fill="#f9a3a8" stroke="#ee2a35" stroke-width="1.3" stroke-linejoin="miter"/>
<path d="M224.14 772.76L225.89 776.26L222.39 776.26Z" fill="#f9a3a8" stroke="#ee2a35" stroke-width="1.3" stroke-linejoin="miter"/>
<path d="M240.53 778.31L242.28 781.81L238.78 781.81Z" fill="#f9a3a8" stroke="#ee2a35" stroke-width="1.3" stroke-linejoin="miter"/>
<path d="M256.93 778.31L258.68 781.81L255.18 781.81Z" fill="#f9a3a8" stroke="#ee2a35" stroke-width="1.3" stroke-linejoin="miter"/>
<path d="M289.71 772.76L291.46 776.26L287.96 776.26Z" fill="#f9a3a8" stroke="#ee2a35" stroke-width="1.3" stroke-linejoin="miter"/>
<path d="M306.11 728.3L307.86 731.8L304.36 731.8Z" fill="#f9a3a8" stroke="#ee2a35" stroke-width="1.3" stroke-linejoin="miter"/>
<path d="M109.39 724.84L125.78 752.63L142.17 774.86L158.57 808.2L191.35 769.3L207.75 752.63L224.14 774.86L240.53 780.41L256.93 780.41L289.71 791.53" fill="none" stroke="#111111" stroke-width="1.15" stroke-linejoin="round"/>
<circle cx="109.39" cy="724.84" r="2.05" fill="#111111"/>
<circle cx="125.78" cy="752.63" r="2.05" fill="#111111"/>
<circle cx="142.17" cy="774.86" r="2.05" fill="#111111"/>
<circle cx="158.57" cy="808.2" r="2.05" fill="#111111"/>
<circle cx="191.35" cy="769.3" r="2.05" fill="#111111"/>
<circle cx="207.75" cy="752.63" r="2.05" fill="#111111"/>
<circle cx="224.14" cy="774.86" r="2.05" fill="#111111"/>
<circle cx="240.53" cy="780.41" r="2.05" fill="#111111"/>
<circle cx="256.93" cy="780.41" r="2.05" fill="#111111"/>
<circle cx="289.71" cy="791.53" r="2.05" fill="#111111"/>
<path d="M86.44 758.18L89.71 780.41L92.99 819.32L96.27 785.97L99.55 797.09L102.83 774.86L106.11 802.64L109.39 763.74L125.78 763.74L142.17 763.74L158.57 785.97L174.96 752.63L191.35 735.95L207.75 769.3L224.14 763.74L240.53 769.3L256.93 774.86L289.71 791.53L306.11 763.74" fill="none" stroke="#de4f88" stroke-width="1.15" stroke-linejoin="round"/>
<rect x="83.94" y="755.68" width="5" height="5" fill="#de4f88"/>
<rect x="87.21" y="777.91" width="5" height="5" fill="#de4f88"/>
<rect x="90.49" y="816.82" width="5" height="5" fill="#de4f88"/>
<rect x="93.77" y="783.47" width="5" height="5" fill="#de4f88"/>
<rect x="97.05" y="794.59" width="5" height="5" fill="#de4f88"/>
<rect x="100.33" y="772.36" width="5" height="5" fill="#de4f88"/>
<rect x="103.61" y="800.14" width="5" height="5" fill="#de4f88"/>
<rect x="106.89" y="761.24" width="5" height="5" fill="#de4f88"/>
<rect x="123.28" y="761.24" width="5" height="5" fill="#de4f88"/>
<rect x="139.67" y="761.24" width="5" height="5" fill="#de4f88"/>
<rect x="156.07" y="783.47" width="5" height="5" fill="#de4f88"/>
<rect x="172.46" y="750.13" width="5" height="5" fill="#de4f88"/>
<rect x="188.85" y="733.45" width="5" height="5" fill="#de4f88"/>
<rect x="205.25" y="766.8" width="5" height="5" fill="#de4f88"/>
<rect x="221.64" y="761.24" width="5" height="5" fill="#de4f88"/>
<rect x="238.03" y="766.8" width="5" height="5" fill="#de4f88"/>
<rect x="254.43" y="772.36" width="5" height="5" fill="#de4f88"/>
<rect x="287.21" y="789.03" width="5" height="5" fill="#de4f88"/>
<rect x="303.61" y="761.24" width="5" height="5" fill="#de4f88"/>
<path d="M99.22 691.5L102.83 730.4L105.78 713.72L109.06 730.4L125.78 774.86L142.17 763.74L158.57 763.74L174.96 774.86L191.35 791.53L207.75 747.07L224.14 791.53L240.53 769.3L256.93 752.63L289.71 774.86L306.11 747.07" fill="none" stroke="#157347" stroke-width="1.15" stroke-linejoin="round"/>
<path d="M99.22 688.5L101.72 693.5L96.72 693.5Z" fill="#157347"/>
<path d="M102.83 727.4L105.33 732.4L100.33 732.4Z" fill="#157347"/>
<path d="M105.78 710.72L108.28 715.72L103.28 715.72Z" fill="#157347"/>
<path d="M109.06 727.4L111.56 732.4L106.56 732.4Z" fill="#157347"/>
<path d="M125.78 771.86L128.28 776.86L123.28 776.86Z" fill="#157347"/>
<path d="M142.17 760.74L144.67 765.74L139.67 765.74Z" fill="#157347"/>
<path d="M158.57 760.74L161.07 765.74L156.07 765.74Z" fill="#157347"/>
<path d="M174.96 771.86L177.46 776.86L172.46 776.86Z" fill="#157347"/>
<path d="M191.35 788.53L193.85 793.53L188.85 793.53Z" fill="#157347"/>
<path d="M207.75 744.07L210.25 749.07L205.25 749.07Z" fill="#157347"/>
<path d="M224.14 788.53L226.64 793.53L221.64 793.53Z" fill="#157347"/>
<path d="M240.53 766.3L243.03 771.3L238.03 771.3Z" fill="#157347"/>
<path d="M256.93 749.63L259.43 754.63L254.43 754.63Z" fill="#157347"/>
<path d="M289.71 771.86L292.21 776.86L287.21 776.86Z" fill="#157347"/>
<path d="M306.11 744.07L308.61 749.07L303.61 749.07Z" fill="#157347"/>
<path d="M75.4 626.8H322.5M75.4 911.8H322.5" fill="none" stroke="#505050" stroke-width="1.4"/>
<path d="M76.3 626.8V911.8" fill="none" stroke="#686868" stroke-width="1.8"/>
<path d="M322.5 626.3V912.4" fill="none" stroke="#111" stroke-width="1"/>
<text transform="translate(303.5 648.2) scale(1 1.02)" text-anchor="end">Isotherm 5</text>
<text transform="translate(83.2 650.2) scale(1 1.02)">(c)</text>
<text transform="translate(70.6 917.7) scale(1 1.02)" text-anchor="end">-0.20</text>
<text transform="translate(70.6 882.07) scale(1 1.02)" text-anchor="end">-0.15</text>
<text transform="translate(70.6 846.45) scale(1 1.02)" text-anchor="end">-0.10</text>
<text transform="translate(70.6 810.82) scale(1 1.02)" text-anchor="end">-0.05</text>
<text transform="translate(70.6 775.2) scale(1 1.02)" text-anchor="end">0.00</text>
<text transform="translate(70.6 739.57) scale(1 1.02)" text-anchor="end">0.05</text>
<text transform="translate(70.6 703.95) scale(1 1.02)" text-anchor="end">0.10</text>
<text transform="translate(70.6 668.32) scale(1 1.02)" text-anchor="end">0.15</text>
<text transform="translate(76.6 936) scale(1 1.02)" text-anchor="middle">0</text>
<text transform="translate(109.39 936) scale(1 1.02)" text-anchor="middle">100</text>
<text transform="translate(142.17 936) scale(1 1.02)" text-anchor="middle">200</text>
<text transform="translate(174.96 936) scale(1 1.02)" text-anchor="middle">300</text>
<text transform="translate(207.75 936) scale(1 1.02)" text-anchor="middle">400</text>
<text transform="translate(240.53 936) scale(1 1.02)" text-anchor="middle">500</text>
<text transform="translate(273.32 936) scale(1 1.02)" text-anchor="middle">600</text>
<text transform="translate(306.11 936) scale(1 1.02)" text-anchor="middle">700</text>
<text transform="translate(194.63 957.6) scale(1 1.02)" text-anchor="middle"><tspan font-style="italic">P</tspan>/kPa</text>
</g>
<g id="panel-d">
<rect x="394" y="83.32" width="276.2" height="142.05" fill="#cdeaed"/>
<rect x="394" y="118.84" width="276.2" height="71.02" fill="#9fd9e5"/>
<path d="M430.83 12.3V296.4M467.65 12.3V296.4M504.48 12.3V296.4M541.31 12.3V296.4M578.13 12.3V296.4M614.96 12.3V296.4M651.79 12.3V296.4M394 260.89H670.2M394 225.38H670.2M394 189.86H670.2M394 154.35H670.2M394 118.84H670.2M394 83.32H670.2M394 47.81H670.2" fill="none" stroke="#000" stroke-width="0.95" stroke-dasharray="1.75 0.6"/>
<rect x="570.2" y="19.2" width="75.7" height="19.5" fill="#fff"/>
<path d="M430.83 167.84L430.83 137.66L449.24 187.02L467.65 166.42L486.07 195.19L504.48 168.2L522.89 168.2L541.31 169.62L559.72 154.35L578.13 193.77L596.55 124.16L614.96 201.94L633.37 168.91L651.79 128.07" fill="none" stroke="#3b4aa8" stroke-width="1.15" stroke-linejoin="round"/>
<circle cx="430.83" cy="167.84" r="1.7" fill="none" stroke="#3b4aa8" stroke-width="1.1"/>
<circle cx="430.83" cy="137.66" r="1.7" fill="none" stroke="#3b4aa8" stroke-width="1.1"/>
<circle cx="449.24" cy="187.02" r="1.7" fill="none" stroke="#3b4aa8" stroke-width="1.1"/>
<circle cx="467.65" cy="166.42" r="1.7" fill="none" stroke="#3b4aa8" stroke-width="1.1"/>
<circle cx="486.07" cy="195.19" r="1.7" fill="none" stroke="#3b4aa8" stroke-width="1.1"/>
<circle cx="504.48" cy="168.2" r="1.7" fill="none" stroke="#3b4aa8" stroke-width="1.1"/>
<circle cx="522.89" cy="168.2" r="1.7" fill="none" stroke="#3b4aa8" stroke-width="1.1"/>
<circle cx="541.31" cy="169.62" r="1.7" fill="none" stroke="#3b4aa8" stroke-width="1.1"/>
<circle cx="559.72" cy="154.35" r="1.7" fill="none" stroke="#3b4aa8" stroke-width="1.1"/>
<circle cx="578.13" cy="193.77" r="1.7" fill="none" stroke="#3b4aa8" stroke-width="1.1"/>
<circle cx="596.55" cy="124.16" r="1.7" fill="none" stroke="#3b4aa8" stroke-width="1.1"/>
<circle cx="614.96" cy="201.94" r="1.7" fill="none" stroke="#3b4aa8" stroke-width="1.1"/>
<circle cx="633.37" cy="168.91" r="1.7" fill="none" stroke="#3b4aa8" stroke-width="1.1"/>
<circle cx="651.79" cy="128.07" r="1.7" fill="none" stroke="#3b4aa8" stroke-width="1.1"/>
<path d="M430.83 167.84L430.83 178.5L449.24 187.02L467.65 177.79L486.07 167.84L504.48 182.76L522.89 168.2L541.31 183.83L559.72 184.54L578.13 154.35L596.55 139.08L614.96 154.35L633.37 168.91L651.79 140.86" fill="none" stroke="#157347" stroke-width="1.15" stroke-linejoin="round"/>
<rect x="429.18" y="166.19" width="3.3" height="3.3" fill="none" stroke="#157347" stroke-width="1.1"/>
<rect x="429.18" y="176.85" width="3.3" height="3.3" fill="none" stroke="#157347" stroke-width="1.1"/>
<rect x="447.59" y="185.37" width="3.3" height="3.3" fill="none" stroke="#157347" stroke-width="1.1"/>
<rect x="466" y="176.14" width="3.3" height="3.3" fill="none" stroke="#157347" stroke-width="1.1"/>
<rect x="484.42" y="166.19" width="3.3" height="3.3" fill="none" stroke="#157347" stroke-width="1.1"/>
<rect x="502.83" y="181.11" width="3.3" height="3.3" fill="none" stroke="#157347" stroke-width="1.1"/>
<rect x="521.24" y="166.55" width="3.3" height="3.3" fill="none" stroke="#157347" stroke-width="1.1"/>
<rect x="539.66" y="182.18" width="3.3" height="3.3" fill="none" stroke="#157347" stroke-width="1.1"/>
<rect x="558.07" y="182.89" width="3.3" height="3.3" fill="none" stroke="#157347" stroke-width="1.1"/>
<rect x="576.48" y="152.7" width="3.3" height="3.3" fill="none" stroke="#157347" stroke-width="1.1"/>
<rect x="594.9" y="137.43" width="3.3" height="3.3" fill="none" stroke="#157347" stroke-width="1.1"/>
<rect x="613.31" y="152.7" width="3.3" height="3.3" fill="none" stroke="#157347" stroke-width="1.1"/>
<rect x="631.72" y="167.26" width="3.3" height="3.3" fill="none" stroke="#157347" stroke-width="1.1"/>
<rect x="650.14" y="139.21" width="3.3" height="3.3" fill="none" stroke="#157347" stroke-width="1.1"/>
<path d="M430.83 202.65L430.83 204.07L449.24 109.96L467.65 154.35L486.07 181.34L504.48 168.2L522.89 154.35L541.31 198.74L559.72 154.35L578.13 193.77L596.55 168.91L614.96 185.25L633.37 168.91L651.79 115.29" fill="none" stroke="#ee2a35" stroke-width="1.15" stroke-linejoin="round"/>
<path d="M430.83 200.55L432.58 204.05L429.08 204.05Z" fill="#f9a3a8" stroke="#ee2a35" stroke-width="1.3" stroke-linejoin="miter"/>
<path d="M430.83 201.97L432.58 205.47L429.08 205.47Z" fill="#f9a3a8" stroke="#ee2a35" stroke-width="1.3" stroke-linejoin="miter"/>
<path d="M449.24 107.86L450.99 111.36L447.49 111.36Z" fill="#f9a3a8" stroke="#ee2a35" stroke-width="1.3" stroke-linejoin="miter"/>
<path d="M467.65 152.25L469.4 155.75L465.9 155.75Z" fill="#f9a3a8" stroke="#ee2a35" stroke-width="1.3" stroke-linejoin="miter"/>
<path d="M486.07 179.24L487.82 182.74L484.32 182.74Z" fill="#f9a3a8" stroke="#ee2a35" stroke-width="1.3" stroke-linejoin="miter"/>
<path d="M504.48 166.1L506.23 169.6L502.73 169.6Z" fill="#f9a3a8" stroke="#ee2a35" stroke-width="1.3" stroke-linejoin="miter"/>
<path d="M522.89 152.25L524.64 155.75L521.14 155.75Z" fill="#f9a3a8" stroke="#ee2a35" stroke-width="1.3" stroke-linejoin="miter"/>
<path d="M541.31 196.64L543.06 200.14L539.56 200.14Z" fill="#f9a3a8" stroke="#ee2a35" stroke-width="1.3" stroke-linejoin="miter"/>
<path d="M559.72 152.25L561.47 155.75L557.97 155.75Z" fill="#f9a3a8" stroke="#ee2a35" stroke-width="1.3" stroke-linejoin="miter"/>
<path d="M578.13 191.67L579.88 195.17L576.38 195.17Z" fill="#f9a3a8" stroke="#ee2a35" stroke-width="1.3" stroke-linejoin="miter"/>
<path d="M596.55 166.81L598.3 170.31L594.8 170.31Z" fill="#f9a3a8" stroke="#ee2a35" stroke-width="1.3" stroke-linejoin="miter"/>
<path d="M614.96 183.15L616.71 186.65L613.21 186.65Z" fill="#f9a3a8" stroke="#ee2a35" stroke-width="1.3" stroke-linejoin="miter"/>
<path d="M633.37 166.81L635.12 170.31L631.62 170.31Z" fill="#f9a3a8" stroke="#ee2a35" stroke-width="1.3" stroke-linejoin="miter"/>
<path d="M651.79 113.19L653.54 116.69L650.04 116.69Z" fill="#f9a3a8" stroke="#ee2a35" stroke-width="1.3" stroke-linejoin="miter"/>
<path d="M430.83 72.32L430.83 56.51L449.24 176.37L467.65 189.51L486.07 72.32L504.48 154.35L522.89 140.14L541.31 109.25L559.72 154.35L578.13 167.84L596.55 168.91L614.96 154.35L633.37 183.12L651.79 140.86" fill="none" stroke="#111111" stroke-width="1.15" stroke-linejoin="round"/>
<circle cx="430.83" cy="72.32" r="2.05" fill="#111111"/>
<circle cx="430.83" cy="56.51" r="2.05" fill="#111111"/>
<circle cx="449.24" cy="176.37" r="2.05" fill="#111111"/>
<circle cx="467.65" cy="189.51" r="2.05" fill="#111111"/>
<circle cx="486.07" cy="72.32" r="2.05" fill="#111111"/>
<circle cx="504.48" cy="154.35" r="2.05" fill="#111111"/>
<circle cx="522.89" cy="140.14" r="2.05" fill="#111111"/>
<circle cx="541.31" cy="109.25" r="2.05" fill="#111111"/>
<circle cx="559.72" cy="154.35" r="2.05" fill="#111111"/>
<circle cx="578.13" cy="167.84" r="2.05" fill="#111111"/>
<circle cx="596.55" cy="168.91" r="2.05" fill="#111111"/>
<circle cx="614.96" cy="154.35" r="2.05" fill="#111111"/>
<circle cx="633.37" cy="183.12" r="2.05" fill="#111111"/>
<circle cx="651.79" cy="140.86" r="2.05" fill="#111111"/>
<path d="M430.83 161.45L449.24 154.35L467.65 166.42L486.07 140.86L504.48 111.73L522.89 83.32L541.31 183.83L559.72 139.79L578.13 154.35L596.55 184.54L614.96 185.25L633.37 225.38L651.79 206.91" fill="none" stroke="#de4f88" stroke-width="1.15" stroke-linejoin="round"/>
<rect x="428.33" y="158.95" width="5" height="5" fill="#de4f88"/>
<rect x="446.74" y="151.85" width="5" height="5" fill="#de4f88"/>
<rect x="465.15" y="163.92" width="5" height="5" fill="#de4f88"/>
<rect x="483.57" y="138.36" width="5" height="5" fill="#de4f88"/>
<rect x="501.98" y="109.23" width="5" height="5" fill="#de4f88"/>
<rect x="520.39" y="80.82" width="5" height="5" fill="#de4f88"/>
<rect x="538.81" y="181.33" width="5" height="5" fill="#de4f88"/>
<rect x="557.22" y="137.29" width="5" height="5" fill="#de4f88"/>
<rect x="575.63" y="151.85" width="5" height="5" fill="#de4f88"/>
<rect x="594.05" y="182.04" width="5" height="5" fill="#de4f88"/>
<rect x="612.46" y="182.75" width="5" height="5" fill="#de4f88"/>
<rect x="630.87" y="222.88" width="5" height="5" fill="#de4f88"/>
<rect x="649.29" y="204.41" width="5" height="5" fill="#de4f88"/>
<path d="M430.83 113.16L430.83 97.53L449.24 142.99L467.65 177.79L486.07 154.35L504.48 154.35L522.89 97.53L559.72 154.35L578.13 140.86L596.55 168.91L614.96 185.25L633.37 197.68L651.79 180.63" fill="none" stroke="#157347" stroke-width="1.15" stroke-linejoin="round"/>
<path d="M430.83 110.16L433.33 115.16L428.33 115.16Z" fill="#157347"/>
<path d="M430.83 94.53L433.33 99.53L428.33 99.53Z" fill="#157347"/>
<path d="M449.24 139.99L451.74 144.99L446.74 144.99Z" fill="#157347"/>
<path d="M467.65 174.79L470.15 179.79L465.15 179.79Z" fill="#157347"/>
<path d="M486.07 151.35L488.57 156.35L483.57 156.35Z" fill="#157347"/>
<path d="M504.48 151.35L506.98 156.35L501.98 156.35Z" fill="#157347"/>
<path d="M522.89 94.53L525.39 99.53L520.39 99.53Z" fill="#157347"/>
<path d="M559.72 151.35L562.22 156.35L557.22 156.35Z" fill="#157347"/>
<path d="M578.13 137.86L580.63 142.86L575.63 142.86Z" fill="#157347"/>
<path d="M596.55 165.91L599.05 170.91L594.05 170.91Z" fill="#157347"/>
<path d="M614.96 182.25L617.46 187.25L612.46 187.25Z" fill="#157347"/>
<path d="M633.37 194.68L635.87 199.68L630.87 199.68Z" fill="#157347"/>
<path d="M651.79 177.63L654.29 182.63L649.29 182.63Z" fill="#157347"/>
<path d="M393.4 12.3H671M394 12.3V296.4M393.4 296.4H671" fill="none" stroke="#1a1a1a" stroke-width="1.25"/>
<path d="M670.5 12.3V296.4" fill="none" stroke="#000" stroke-width="1"/>
<text transform="translate(644.7 33.7) scale(1 1.02)" text-anchor="end">Isotherm 3</text>
<text transform="translate(402.2 35.7) scale(1 1.02)">(d)</text>
<text transform="translate(386.4 302.3) scale(1 1.02)" text-anchor="end">-4</text>
<text transform="translate(386.4 266.79) scale(1 1.02)" text-anchor="end">-3</text>
<text transform="translate(386.4 231.28) scale(1 1.02)" text-anchor="end">-2</text>
<text transform="translate(386.4 195.76) scale(1 1.02)" text-anchor="end">-1</text>
<text transform="translate(386.4 160.25) scale(1 1.02)" text-anchor="end">0</text>
<text transform="translate(386.4 124.74) scale(1 1.02)" text-anchor="end">1</text>
<text transform="translate(386.4 89.22) scale(1 1.02)" text-anchor="end">2</text>
<text transform="translate(386.4 53.71) scale(1 1.02)" text-anchor="end">3</text>
<text transform="translate(386.4 18.2) scale(1 1.02)" text-anchor="end">4</text>
</g>
<g id="panel-e">
<rect x="394" y="393.38" width="276.2" height="141.95" fill="#cdeaed"/>
<rect x="394" y="428.86" width="276.2" height="70.98" fill="#9fd9e5"/>
<path d="M430.83 322.4V606.3M467.65 322.4V606.3M504.48 322.4V606.3M541.31 322.4V606.3M578.13 322.4V606.3M614.96 322.4V606.3M651.79 322.4V606.3M394 570.81H670.2M394 535.32H670.2M394 499.84H670.2M394 464.35H670.2M394 428.86H670.2M394 393.38H670.2M394 357.89H670.2" fill="none" stroke="#000" stroke-width="0.95" stroke-dasharray="1.75 0.6"/>
<rect x="570.2" y="329.3" width="75.7" height="19.5" fill="#fff"/>
<path d="M430.83 491.32L449.24 488.48L467.65 430.64L486.07 464.35L504.48 478.19L522.89 478.19L541.31 419.28L559.72 509.42L578.13 477.84L596.55 433.83L614.96 448.74L633.37 450.51L651.79 424.96" fill="none" stroke="#3b4aa8" stroke-width="1.15" stroke-linejoin="round"/>
<circle cx="430.83" cy="491.32" r="1.7" fill="none" stroke="#3b4aa8" stroke-width="1.1"/>
<circle cx="449.24" cy="488.48" r="1.7" fill="none" stroke="#3b4aa8" stroke-width="1.1"/>
<circle cx="467.65" cy="430.64" r="1.7" fill="none" stroke="#3b4aa8" stroke-width="1.1"/>
<circle cx="486.07" cy="464.35" r="1.7" fill="none" stroke="#3b4aa8" stroke-width="1.1"/>
<circle cx="504.48" cy="478.19" r="1.7" fill="none" stroke="#3b4aa8" stroke-width="1.1"/>
<circle cx="522.89" cy="478.19" r="1.7" fill="none" stroke="#3b4aa8" stroke-width="1.1"/>
<circle cx="541.31" cy="419.28" r="1.7" fill="none" stroke="#3b4aa8" stroke-width="1.1"/>
<circle cx="559.72" cy="509.42" r="1.7" fill="none" stroke="#3b4aa8" stroke-width="1.1"/>
<circle cx="578.13" cy="477.84" r="1.7" fill="none" stroke="#3b4aa8" stroke-width="1.1"/>
<circle cx="596.55" cy="433.83" r="1.7" fill="none" stroke="#3b4aa8" stroke-width="1.1"/>
<circle cx="614.96" cy="448.74" r="1.7" fill="none" stroke="#3b4aa8" stroke-width="1.1"/>
<circle cx="633.37" cy="450.51" r="1.7" fill="none" stroke="#3b4aa8" stroke-width="1.1"/>
<circle cx="651.79" cy="424.96" r="1.7" fill="none" stroke="#3b4aa8" stroke-width="1.1"/>
<path d="M430.83 485.29L449.24 464.35L467.65 474.64L486.07 464.35L504.48 450.51L522.89 450.51L541.31 464.35L559.72 464.35L578.13 438.09L596.55 449.09L614.96 464.35L633.37 421.06L651.79 464.35" fill="none" stroke="#157347" stroke-width="1.15" stroke-linejoin="round"/>
<rect x="429.18" y="483.64" width="3.3" height="3.3" fill="none" stroke="#157347" stroke-width="1.1"/>
<rect x="447.59" y="462.7" width="3.3" height="3.3" fill="none" stroke="#157347" stroke-width="1.1"/>
<rect x="466" y="472.99" width="3.3" height="3.3" fill="none" stroke="#157347" stroke-width="1.1"/>
<rect x="484.42" y="462.7" width="3.3" height="3.3" fill="none" stroke="#157347" stroke-width="1.1"/>
<rect x="502.83" y="448.86" width="3.3" height="3.3" fill="none" stroke="#157347" stroke-width="1.1"/>
<rect x="521.24" y="448.86" width="3.3" height="3.3" fill="none" stroke="#157347" stroke-width="1.1"/>
<rect x="539.66" y="462.7" width="3.3" height="3.3" fill="none" stroke="#157347" stroke-width="1.1"/>
<rect x="558.07" y="462.7" width="3.3" height="3.3" fill="none" stroke="#157347" stroke-width="1.1"/>
<rect x="576.48" y="436.44" width="3.3" height="3.3" fill="none" stroke="#157347" stroke-width="1.1"/>
<rect x="594.9" y="447.44" width="3.3" height="3.3" fill="none" stroke="#157347" stroke-width="1.1"/>
<rect x="613.31" y="462.7" width="3.3" height="3.3" fill="none" stroke="#157347" stroke-width="1.1"/>
<rect x="631.72" y="419.41" width="3.3" height="3.3" fill="none" stroke="#157347" stroke-width="1.1"/>
<rect x="650.14" y="462.7" width="3.3" height="3.3" fill="none" stroke="#157347" stroke-width="1.1"/>
<path d="M430.83 512.61L449.24 505.16L467.65 452.99L486.07 487.77L504.48 423.18L522.89 435.61L541.31 434.19L559.72 433.83L578.13 438.09L596.55 464.35L614.96 448.74L633.37 450.51L651.79 411.12" fill="none" stroke="#ee2a35" stroke-width="1.15" stroke-linejoin="round"/>
<path d="M430.83 510.51L432.58 514.01L429.08 514.01Z" fill="#f9a3a8" stroke="#ee2a35" stroke-width="1.3" stroke-linejoin="miter"/>
<path d="M449.24 503.06L450.99 506.56L447.49 506.56Z" fill="#f9a3a8" stroke="#ee2a35" stroke-width="1.3" stroke-linejoin="miter"/>
<path d="M467.65 450.89L469.4 454.39L465.9 454.39Z" fill="#f9a3a8" stroke="#ee2a35" stroke-width="1.3" stroke-linejoin="miter"/>
<path d="M486.07 485.67L487.82 489.17L484.32 489.17Z" fill="#f9a3a8" stroke="#ee2a35" stroke-width="1.3" stroke-linejoin="miter"/>
<path d="M504.48 421.08L506.23 424.58L502.73 424.58Z" fill="#f9a3a8" stroke="#ee2a35" stroke-width="1.3" stroke-linejoin="miter"/>
<path d="M522.89 433.51L524.64 437.01L521.14 437.01Z" fill="#f9a3a8" stroke="#ee2a35" stroke-width="1.3" stroke-linejoin="miter"/>
<path d="M541.31 432.09L543.06 435.59L539.56 435.59Z" fill="#f9a3a8" stroke="#ee2a35" stroke-width="1.3" stroke-linejoin="miter"/>
<path d="M559.72 431.73L561.47 435.23L557.97 435.23Z" fill="#f9a3a8" stroke="#ee2a35" stroke-width="1.3" stroke-linejoin="miter"/>
<path d="M578.13 435.99L579.88 439.49L576.38 439.49Z" fill="#f9a3a8" stroke="#ee2a35" stroke-width="1.3" stroke-linejoin="miter"/>
<path d="M596.55 462.25L598.3 465.75L594.8 465.75Z" fill="#f9a3a8" stroke="#ee2a35" stroke-width="1.3" stroke-linejoin="miter"/>
<path d="M614.96 446.64L616.71 450.14L613.21 450.14Z" fill="#f9a3a8" stroke="#ee2a35" stroke-width="1.3" stroke-linejoin="miter"/>
<path d="M633.37 448.41L635.12 451.91L631.62 451.91Z" fill="#f9a3a8" stroke="#ee2a35" stroke-width="1.3" stroke-linejoin="miter"/>
<path d="M651.79 409.02L653.54 412.52L650.04 412.52Z" fill="#f9a3a8" stroke="#ee2a35" stroke-width="1.3" stroke-linejoin="miter"/>
<path d="M430.83 395.86L449.24 439.15L467.65 430.64L504.48 464.35L522.89 393.38L541.31 404.02L559.72 418.57L578.13 490.97L596.55 464.35L614.96 495.93L633.37 478.54L651.79 438.09" fill="none" stroke="#111111" stroke-width="1.15" stroke-linejoin="round"/>
<circle cx="430.83" cy="395.86" r="2.05" fill="#111111"/>
<circle cx="449.24" cy="439.15" r="2.05" fill="#111111"/>
<circle cx="467.65" cy="430.64" r="2.05" fill="#111111"/>
<circle cx="504.48" cy="464.35" r="2.05" fill="#111111"/>
<circle cx="522.89" cy="393.38" r="2.05" fill="#111111"/>
<circle cx="541.31" cy="404.02" r="2.05" fill="#111111"/>
<circle cx="559.72" cy="418.57" r="2.05" fill="#111111"/>
<circle cx="578.13" cy="490.97" r="2.05" fill="#111111"/>
<circle cx="596.55" cy="464.35" r="2.05" fill="#111111"/>
<circle cx="614.96" cy="495.93" r="2.05" fill="#111111"/>
<circle cx="633.37" cy="478.54" r="2.05" fill="#111111"/>
<circle cx="651.79" cy="438.09" r="2.05" fill="#111111"/>
<path d="M430.83 485.29L449.24 472.16L467.65 430.64L486.07 405.09L504.48 354.34L522.89 365.34L541.31 418.22L559.72 433.83L578.13 411.12L596.55 449.09L614.96 495.93L633.37 507.64L651.79 503.74" fill="none" stroke="#de4f88" stroke-width="1.15" stroke-linejoin="round"/>
<rect x="428.33" y="482.79" width="5" height="5" fill="#de4f88"/>
<rect x="446.74" y="469.66" width="5" height="5" fill="#de4f88"/>
<rect x="465.15" y="428.14" width="5" height="5" fill="#de4f88"/>
<rect x="483.57" y="402.59" width="5" height="5" fill="#de4f88"/>
<rect x="501.98" y="351.84" width="5" height="5" fill="#de4f88"/>
<rect x="520.39" y="362.84" width="5" height="5" fill="#de4f88"/>
<rect x="538.81" y="415.72" width="5" height="5" fill="#de4f88"/>
<rect x="557.22" y="431.33" width="5" height="5" fill="#de4f88"/>
<rect x="575.63" y="408.62" width="5" height="5" fill="#de4f88"/>
<rect x="594.05" y="446.59" width="5" height="5" fill="#de4f88"/>
<rect x="612.46" y="493.43" width="5" height="5" fill="#de4f88"/>
<rect x="630.87" y="505.14" width="5" height="5" fill="#de4f88"/>
<rect x="649.29" y="501.24" width="5" height="5" fill="#de4f88"/>
<path d="M430.83 443.77L449.24 480.32L467.65 486.35L486.07 476.06L504.48 492.03L522.89 492.74L541.31 418.22L559.72 433.83L578.13 438.09L596.55 449.09L614.96 448.74L633.37 478.54L651.79 477.84" fill="none" stroke="#157347" stroke-width="1.15" stroke-linejoin="round"/>
<path d="M430.83 440.77L433.33 445.77L428.33 445.77Z" fill="#157347"/>
<path d="M449.24 477.32L451.74 482.32L446.74 482.32Z" fill="#157347"/>
<path d="M467.65 483.35L470.15 488.35L465.15 488.35Z" fill="#157347"/>
<path d="M486.07 473.06L488.57 478.06L483.57 478.06Z" fill="#157347"/>
<path d="M504.48 489.03L506.98 494.03L501.98 494.03Z" fill="#157347"/>
<path d="M522.89 489.74L525.39 494.74L520.39 494.74Z" fill="#157347"/>
<path d="M541.31 415.22L543.81 420.22L538.81 420.22Z" fill="#157347"/>
<path d="M559.72 430.83L562.22 435.83L557.22 435.83Z" fill="#157347"/>
<path d="M578.13 435.09L580.63 440.09L575.63 440.09Z" fill="#157347"/>
<path d="M596.55 446.09L599.05 451.09L594.05 451.09Z" fill="#157347"/>
<path d="M614.96 445.74L617.46 450.74L612.46 450.74Z" fill="#157347"/>
<path d="M633.37 475.54L635.87 480.54L630.87 480.54Z" fill="#157347"/>
<path d="M651.79 474.84L654.29 479.84L649.29 479.84Z" fill="#157347"/>
<path d="M393.4 322.4H671M394 322.4V606.3M393.4 606.3H671" fill="none" stroke="#1a1a1a" stroke-width="1.25"/>
<path d="M670.5 322.4V606.3" fill="none" stroke="#000" stroke-width="1"/>
<text transform="translate(644.7 343.8) scale(1 1.02)" text-anchor="end">Isotherm 4</text>
<text transform="translate(402.2 345.8) scale(1 1.02)">(e)</text>
<text transform="translate(386.4 612.2) scale(1 1.02)" text-anchor="end">-4</text>
<text transform="translate(386.4 576.71) scale(1 1.02)" text-anchor="end">-3</text>
<text transform="translate(386.4 541.22) scale(1 1.02)" text-anchor="end">-2</text>
<text transform="translate(386.4 505.74) scale(1 1.02)" text-anchor="end">-1</text>
<text transform="translate(386.4 470.25) scale(1 1.02)" text-anchor="end">0</text>
<text transform="translate(386.4 434.76) scale(1 1.02)" text-anchor="end">1</text>
<text transform="translate(386.4 399.27) scale(1 1.02)" text-anchor="end">2</text>
<text transform="translate(386.4 363.79) scale(1 1.02)" text-anchor="end">3</text>
<text transform="translate(386.4 328.3) scale(1 1.02)" text-anchor="end">4</text>
</g>
<g id="panel-f">
<rect x="394" y="698.42" width="276.2" height="142.65" fill="#cdeaed"/>
<rect x="394" y="734.09" width="276.2" height="71.33" fill="#9fd9e5"/>
<path d="M430.83 627.1V912.4M467.65 627.1V912.4M504.48 627.1V912.4M541.31 627.1V912.4M578.13 627.1V912.4M614.96 627.1V912.4M651.79 627.1V912.4M394 876.74H670.2M394 841.08H670.2M394 805.41H670.2M394 769.75H670.2M394 734.09H670.2M394 698.42H670.2M394 662.76H670.2" fill="none" stroke="#000" stroke-width="0.95" stroke-dasharray="1.75 0.6"/>
<rect x="570.2" y="634" width="75.7" height="19.5" fill="#fff"/>
<path d="M405.05 755.49L409.1 754.42L412.78 756.91L416.46 744.79L420.15 776.88L423.83 788.29L430.83 776.88L449.24 785.8L467.65 735.51L486.07 805.41L504.48 797.57L522.89 783.66L541.31 784.73L559.72 815.04L578.13 782.95L596.55 769.75L633.37 711.98L651.79 730.52" fill="none" stroke="#3b4aa8" stroke-width="1.15" stroke-linejoin="round"/>
<circle cx="405.05" cy="755.49" r="1.7" fill="none" stroke="#3b4aa8" stroke-width="1.1"/>
<circle cx="409.1" cy="754.42" r="1.7" fill="none" stroke="#3b4aa8" stroke-width="1.1"/>
<circle cx="412.78" cy="756.91" r="1.7" fill="none" stroke="#3b4aa8" stroke-width="1.1"/>
<circle cx="416.46" cy="744.79" r="1.7" fill="none" stroke="#3b4aa8" stroke-width="1.1"/>
<circle cx="420.15" cy="776.88" r="1.7" fill="none" stroke="#3b4aa8" stroke-width="1.1"/>
<circle cx="423.83" cy="788.29" r="1.7" fill="none" stroke="#3b4aa8" stroke-width="1.1"/>
<circle cx="430.83" cy="776.88" r="1.7" fill="none" stroke="#3b4aa8" stroke-width="1.1"/>
<circle cx="449.24" cy="785.8" r="1.7" fill="none" stroke="#3b4aa8" stroke-width="1.1"/>
<circle cx="467.65" cy="735.51" r="1.7" fill="none" stroke="#3b4aa8" stroke-width="1.1"/>
<circle cx="486.07" cy="805.41" r="1.7" fill="none" stroke="#3b4aa8" stroke-width="1.1"/>
<circle cx="504.48" cy="797.57" r="1.7" fill="none" stroke="#3b4aa8" stroke-width="1.1"/>
<circle cx="522.89" cy="783.66" r="1.7" fill="none" stroke="#3b4aa8" stroke-width="1.1"/>
<circle cx="541.31" cy="784.73" r="1.7" fill="none" stroke="#3b4aa8" stroke-width="1.1"/>
<circle cx="559.72" cy="815.04" r="1.7" fill="none" stroke="#3b4aa8" stroke-width="1.1"/>
<circle cx="578.13" cy="782.95" r="1.7" fill="none" stroke="#3b4aa8" stroke-width="1.1"/>
<circle cx="596.55" cy="769.75" r="1.7" fill="none" stroke="#3b4aa8" stroke-width="1.1"/>
<circle cx="633.37" cy="711.98" r="1.7" fill="none" stroke="#3b4aa8" stroke-width="1.1"/>
<circle cx="651.79" cy="730.52" r="1.7" fill="none" stroke="#3b4aa8" stroke-width="1.1"/>
<path d="M405.42 697L409.1 757.27L412.78 738.12L416.46 769.75L420.15 778.67L423.83 769.75L427.51 804.34L430.83 790.43L430.83 782.95L449.24 769.75L467.65 791.86L486.07 805.41L504.48 797.57L522.89 825.74L541.31 799.71L559.72 815.04L578.13 782.95L596.55 799.71L633.37 711.98L651.79 716.26" fill="none" stroke="#157347" stroke-width="1.15" stroke-linejoin="round"/>
<rect x="403.77" y="695.35" width="3.3" height="3.3" fill="none" stroke="#157347" stroke-width="1.1"/>
<rect x="407.45" y="755.62" width="3.3" height="3.3" fill="none" stroke="#157347" stroke-width="1.1"/>
<rect x="411.13" y="736.47" width="3.3" height="3.3" fill="none" stroke="#157347" stroke-width="1.1"/>
<rect x="414.81" y="768.1" width="3.3" height="3.3" fill="none" stroke="#157347" stroke-width="1.1"/>
<rect x="418.5" y="777.02" width="3.3" height="3.3" fill="none" stroke="#157347" stroke-width="1.1"/>
<rect x="422.18" y="768.1" width="3.3" height="3.3" fill="none" stroke="#157347" stroke-width="1.1"/>
<rect x="425.86" y="802.69" width="3.3" height="3.3" fill="none" stroke="#157347" stroke-width="1.1"/>
<rect x="429.18" y="788.78" width="3.3" height="3.3" fill="none" stroke="#157347" stroke-width="1.1"/>
<rect x="429.18" y="781.3" width="3.3" height="3.3" fill="none" stroke="#157347" stroke-width="1.1"/>
<rect x="447.59" y="768.1" width="3.3" height="3.3" fill="none" stroke="#157347" stroke-width="1.1"/>
<rect x="466" y="790.21" width="3.3" height="3.3" fill="none" stroke="#157347" stroke-width="1.1"/>
<rect x="484.42" y="803.76" width="3.3" height="3.3" fill="none" stroke="#157347" stroke-width="1.1"/>
<rect x="502.83" y="795.92" width="3.3" height="3.3" fill="none" stroke="#157347" stroke-width="1.1"/>
<rect x="521.24" y="824.09" width="3.3" height="3.3" fill="none" stroke="#157347" stroke-width="1.1"/>
<rect x="539.66" y="798.06" width="3.3" height="3.3" fill="none" stroke="#157347" stroke-width="1.1"/>
<rect x="558.07" y="813.39" width="3.3" height="3.3" fill="none" stroke="#157347" stroke-width="1.1"/>
<rect x="576.48" y="781.3" width="3.3" height="3.3" fill="none" stroke="#157347" stroke-width="1.1"/>
<rect x="594.9" y="798.06" width="3.3" height="3.3" fill="none" stroke="#157347" stroke-width="1.1"/>
<rect x="631.72" y="710.33" width="3.3" height="3.3" fill="none" stroke="#157347" stroke-width="1.1"/>
<rect x="650.14" y="714.61" width="3.3" height="3.3" fill="none" stroke="#157347" stroke-width="1.1"/>
<path d="M405.42 784.01L409.1 778.67L412.78 800.42L416.46 811.48L420.15 796.5L423.83 818.25L427.51 837.51L430.83 803.99L449.24 802.56L467.65 803.27L486.07 781.16L504.48 782.95L522.89 783.66L541.31 769.75L559.72 785.08L578.13 796.85L596.55 799.71L633.37 784.73L651.79 676.67" fill="none" stroke="#ee2a35" stroke-width="1.15" stroke-linejoin="round"/>
<path d="M405.42 781.91L407.17 785.41L403.67 785.41Z" fill="#f9a3a8" stroke="#ee2a35" stroke-width="1.3" stroke-linejoin="miter"/>
<path d="M409.1 776.57L410.85 780.07L407.35 780.07Z" fill="#f9a3a8" stroke="#ee2a35" stroke-width="1.3" stroke-linejoin="miter"/>
<path d="M412.78 798.32L414.53 801.82L411.03 801.82Z" fill="#f9a3a8" stroke="#ee2a35" stroke-width="1.3" stroke-linejoin="miter"/>
<path d="M416.46 809.38L418.21 812.88L414.71 812.88Z" fill="#f9a3a8" stroke="#ee2a35" stroke-width="1.3" stroke-linejoin="miter"/>
<path d="M420.15 794.4L421.9 797.9L418.4 797.9Z" fill="#f9a3a8" stroke="#ee2a35" stroke-width="1.3" stroke-linejoin="miter"/>
<path d="M423.83 816.15L425.58 819.65L422.08 819.65Z" fill="#f9a3a8" stroke="#ee2a35" stroke-width="1.3" stroke-linejoin="miter"/>
<path d="M427.51 835.41L429.26 838.91L425.76 838.91Z" fill="#f9a3a8" stroke="#ee2a35" stroke-width="1.3" stroke-linejoin="miter"/>
<path d="M430.83 801.89L432.58 805.39L429.08 805.39Z" fill="#f9a3a8" stroke="#ee2a35" stroke-width="1.3" stroke-linejoin="miter"/>
<path d="M449.24 800.46L450.99 803.96L447.49 803.96Z" fill="#f9a3a8" stroke="#ee2a35" stroke-width="1.3" stroke-linejoin="miter"/>
<path d="M467.65 801.17L469.4 804.67L465.9 804.67Z" fill="#f9a3a8" stroke="#ee2a35" stroke-width="1.3" stroke-linejoin="miter"/>
<path d="M486.07 779.06L487.82 782.56L484.32 782.56Z" fill="#f9a3a8" stroke="#ee2a35" stroke-width="1.3" stroke-linejoin="miter"/>
<path d="M504.48 780.85L506.23 784.35L502.73 784.35Z" fill="#f9a3a8" stroke="#ee2a35" stroke-width="1.3" stroke-linejoin="miter"/>
<path d="M522.89 781.56L524.64 785.06L521.14 785.06Z" fill="#f9a3a8" stroke="#ee2a35" stroke-width="1.3" stroke-linejoin="miter"/>
<path d="M541.31 767.65L543.06 771.15L539.56 771.15Z" fill="#f9a3a8" stroke="#ee2a35" stroke-width="1.3" stroke-linejoin="miter"/>
<path d="M559.72 782.98L561.47 786.48L557.97 786.48Z" fill="#f9a3a8" stroke="#ee2a35" stroke-width="1.3" stroke-linejoin="miter"/>
<path d="M578.13 794.75L579.88 798.25L576.38 798.25Z" fill="#f9a3a8" stroke="#ee2a35" stroke-width="1.3" stroke-linejoin="miter"/>
<path d="M596.55 797.61L598.3 801.11L594.8 801.11Z" fill="#f9a3a8" stroke="#ee2a35" stroke-width="1.3" stroke-linejoin="miter"/>
<path d="M633.37 782.63L635.12 786.13L631.62 786.13Z" fill="#f9a3a8" stroke="#ee2a35" stroke-width="1.3" stroke-linejoin="miter"/>
<path d="M651.79 674.57L653.54 678.07L650.04 678.07Z" fill="#f9a3a8" stroke="#ee2a35" stroke-width="1.3" stroke-linejoin="miter"/>
<path d="M430.83 714.83L449.24 744.79L467.65 780.45L486.07 852.84L522.89 769.75L541.31 725.17L559.72 785.08L578.13 796.85L596.55 799.71L633.37 827.52" fill="none" stroke="#111111" stroke-width="1.15" stroke-linejoin="round"/>
<circle cx="430.83" cy="714.83" r="2.05" fill="#111111"/>
<circle cx="449.24" cy="744.79" r="2.05" fill="#111111"/>
<circle cx="467.65" cy="780.45" r="2.05" fill="#111111"/>
<circle cx="486.07" cy="852.84" r="2.05" fill="#111111"/>
<circle cx="522.89" cy="769.75" r="2.05" fill="#111111"/>
<circle cx="541.31" cy="725.17" r="2.05" fill="#111111"/>
<circle cx="559.72" cy="785.08" r="2.05" fill="#111111"/>
<circle cx="578.13" cy="796.85" r="2.05" fill="#111111"/>
<circle cx="596.55" cy="799.71" r="2.05" fill="#111111"/>
<circle cx="633.37" cy="827.52" r="2.05" fill="#111111"/>
<path d="M405.78 762.62L409.1 777.95L412.78 826.1L416.46 795.43L420.15 815.4L423.83 779.38L427.51 840.36L430.83 762.97L449.24 761.55L467.65 757.98L486.07 805.41L504.48 728.38L522.89 684.16L541.31 769.75L559.72 754.77L578.13 769.75L596.55 785.08L633.37 827.52L651.79 756.55" fill="none" stroke="#de4f88" stroke-width="1.15" stroke-linejoin="round"/>
<rect x="403.28" y="760.12" width="5" height="5" fill="#de4f88"/>
<rect x="406.6" y="775.45" width="5" height="5" fill="#de4f88"/>
<rect x="410.28" y="823.6" width="5" height="5" fill="#de4f88"/>
<rect x="413.96" y="792.93" width="5" height="5" fill="#de4f88"/>
<rect x="417.65" y="812.9" width="5" height="5" fill="#de4f88"/>
<rect x="421.33" y="776.88" width="5" height="5" fill="#de4f88"/>
<rect x="425.01" y="837.86" width="5" height="5" fill="#de4f88"/>
<rect x="428.33" y="760.47" width="5" height="5" fill="#de4f88"/>
<rect x="446.74" y="759.05" width="5" height="5" fill="#de4f88"/>
<rect x="465.15" y="755.48" width="5" height="5" fill="#de4f88"/>
<rect x="483.57" y="802.91" width="5" height="5" fill="#de4f88"/>
<rect x="501.98" y="725.88" width="5" height="5" fill="#de4f88"/>
<rect x="520.39" y="681.66" width="5" height="5" fill="#de4f88"/>
<rect x="538.81" y="767.25" width="5" height="5" fill="#de4f88"/>
<rect x="557.22" y="752.27" width="5" height="5" fill="#de4f88"/>
<rect x="575.63" y="767.25" width="5" height="5" fill="#de4f88"/>
<rect x="594.05" y="782.58" width="5" height="5" fill="#de4f88"/>
<rect x="630.87" y="825.02" width="5" height="5" fill="#de4f88"/>
<rect x="649.29" y="754.05" width="5" height="5" fill="#de4f88"/>
<path d="M419.96 642.79L423.83 702.53L427.51 653.49L430.83 721.96L449.24 776.88L467.65 757.98L486.07 757.27L504.48 782.95L522.89 825.74L541.31 708.77L559.72 830.38L578.13 769.75L596.55 724.46L633.37 784.73L651.79 716.26" fill="none" stroke="#157347" stroke-width="1.15" stroke-linejoin="round"/>
<path d="M419.96 639.79L422.46 644.79L417.46 644.79Z" fill="#157347"/>
<path d="M423.83 699.53L426.33 704.53L421.33 704.53Z" fill="#157347"/>
<path d="M427.51 650.49L430.01 655.49L425.01 655.49Z" fill="#157347"/>
<path d="M430.83 718.96L433.33 723.96L428.33 723.96Z" fill="#157347"/>
<path d="M449.24 773.88L451.74 778.88L446.74 778.88Z" fill="#157347"/>
<path d="M467.65 754.98L470.15 759.98L465.15 759.98Z" fill="#157347"/>
<path d="M486.07 754.27L488.57 759.27L483.57 759.27Z" fill="#157347"/>
<path d="M504.48 779.95L506.98 784.95L501.98 784.95Z" fill="#157347"/>
<path d="M522.89 822.74L525.39 827.74L520.39 827.74Z" fill="#157347"/>
<path d="M541.31 705.77L543.81 710.77L538.81 710.77Z" fill="#157347"/>
<path d="M559.72 827.38L562.22 832.38L557.22 832.38Z" fill="#157347"/>
<path d="M578.13 766.75L580.63 771.75L575.63 771.75Z" fill="#157347"/>
<path d="M596.55 721.46L599.05 726.46L594.05 726.46Z" fill="#157347"/>
<path d="M633.37 781.73L635.87 786.73L630.87 786.73Z" fill="#157347"/>
<path d="M651.79 713.26L654.29 718.26L649.29 718.26Z" fill="#157347"/>
<path d="M393.4 627.1H671M394 627.1V912.4M393.4 912.4H671" fill="none" stroke="#1a1a1a" stroke-width="1.25"/>
<path d="M670.5 627.1V912.4" fill="none" stroke="#000" stroke-width="1"/>
<text transform="translate(644.7 648.5) scale(1 1.02)" text-anchor="end">Isotherm 5</text>
<text transform="translate(402.2 650.5) scale(1 1.02)">(f)</text>
<text transform="translate(386.4 918.3) scale(1 1.02)" text-anchor="end">-4</text>
<text transform="translate(386.4 882.64) scale(1 1.02)" text-anchor="end">-3</text>
<text transform="translate(386.4 846.98) scale(1 1.02)" text-anchor="end">-2</text>
<text transform="translate(386.4 811.31) scale(1 1.02)" text-anchor="end">-1</text>
<text transform="translate(386.4 775.65) scale(1 1.02)" text-anchor="end">0</text>
<text transform="translate(386.4 739.99) scale(1 1.02)" text-anchor="end">1</text>
<text transform="translate(386.4 704.32) scale(1 1.02)" text-anchor="end">2</text>
<text transform="translate(386.4 668.66) scale(1 1.02)" text-anchor="end">3</text>
<text transform="translate(386.4 633) scale(1 1.02)" text-anchor="end">4</text>
<text transform="translate(394 936) scale(1 1.02)" text-anchor="middle">0</text>
<text transform="translate(430.83 936) scale(1 1.02)" text-anchor="middle">100</text>
<text transform="translate(467.65 936) scale(1 1.02)" text-anchor="middle">200</text>
<text transform="translate(504.48 936) scale(1 1.02)" text-anchor="middle">300</text>
<text transform="translate(541.31 936) scale(1 1.02)" text-anchor="middle">400</text>
<text transform="translate(578.13 936) scale(1 1.02)" text-anchor="middle">500</text>
<text transform="translate(614.96 936) scale(1 1.02)" text-anchor="middle">600</text>
<text transform="translate(651.79 936) scale(1 1.02)" text-anchor="middle">700</text>
<text transform="translate(526.58 957.6) scale(1 1.02)" text-anchor="middle"><tspan font-style="italic">P</tspan>/kPa</text>
</g>
<g id="legend">
<rect x="89.4" y="217.1" width="222.8" height="40.7" fill="#fff"/>
<path d="M88.9 217.1H312.2V257.8H88.9" fill="none" stroke="#6e6e6e" stroke-width="1.5"/>
<path d="M89.4 216.4V258.5" fill="none" stroke="#0a0a0a" stroke-width="1.1"/>
<path d="M94.3 227.9H116.8" stroke="#3b4aa8" stroke-width="1.05" fill="none"/>
<circle cx="105.55" cy="227.9" r="1.7" fill="none" stroke="#3b4aa8" stroke-width="1.1"/>
<text transform="translate(119 233.9) scale(1 1.02)" fill="#3b4aa8">(0,2)</text>
<path d="M173.8 227.9H196" stroke="#ee2a35" stroke-width="1.05" fill="none"/>
<path d="M184.9 225.8L186.65 229.3L183.15 229.3Z" fill="#f9a3a8" stroke="#ee2a35" stroke-width="1.3" stroke-linejoin="miter"/>
<text transform="translate(198.2 233.9) scale(1 1.02)" fill="#ee2a35">(0,4)</text>
<path d="M253 227.9H274.8" stroke="#de4f88" stroke-width="1.05" fill="none"/>
<rect x="261.4" y="225.4" width="5" height="5" fill="#de4f88"/>
<text transform="translate(277 233.9) scale(1 1.02)" fill="#de4f88">(0,8)</text>
<path d="M94.3 245.8H116.8" stroke="#157347" stroke-width="1.05" fill="none"/>
<rect x="103.9" y="244.15" width="3.3" height="3.3" fill="none" stroke="#157347" stroke-width="1.1"/>
<text transform="translate(119 251.8) scale(1 1.02)" fill="#157347">(0,3)</text>
<path d="M173.8 245.8H196" stroke="#111111" stroke-width="1.05" fill="none"/>
<circle cx="184.9" cy="245.8" r="2.05" fill="#111111"/>
<text transform="translate(198.2 251.8) scale(1 1.02)" fill="#111111">(0,7)</text>
<path d="M253 245.8H274.8" stroke="#157347" stroke-width="1.05" fill="none"/>
<path d="M263.9 242.8L266.4 247.8L261.4 247.8Z" fill="#157347"/>
<text transform="translate(277 251.8) scale(1 1.02)" fill="#157347">(0,9)</text>
</g>
<text transform="translate(15.5 170.1) rotate(-90) scale(1 1.02)" text-anchor="middle" font-size="16.2">Residuals /m<tspan font-size="10.4" dy="-5.6">2</tspan><tspan dy="5.6"> s</tspan><tspan font-size="10.4" dy="-5.6">-2</tspan></text>
<text transform="translate(15.5 484.9) rotate(-90) scale(1 1.02)" text-anchor="middle" font-size="16.2">Residuals /m<tspan font-size="10.4" dy="-5.6">2</tspan><tspan dy="5.6"> s</tspan><tspan font-size="10.4" dy="-5.6">-2</tspan></text>
<text transform="translate(15.5 785.2) rotate(-90) scale(1 1.02)" text-anchor="middle" font-size="16.2">Residuals /m<tspan font-size="10.4" dy="-5.6">2</tspan><tspan dy="5.6"> s</tspan><tspan font-size="10.4" dy="-5.6">-2</tspan></text>
<text transform="translate(359.3 152.7) rotate(-90) scale(1 1.02)" text-anchor="middle" font-size="15.5">Normalized Residuals</text>
<text transform="translate(359.3 462.7) rotate(-90) scale(1 1.02)" text-anchor="middle" font-size="15.5">Normalized Residuals</text>
<text transform="translate(359.3 767.7) rotate(-90) scale(1 1.02)" text-anchor="middle" font-size="15.5">Normalized Residuals</text>
</svg>
</body></html>
